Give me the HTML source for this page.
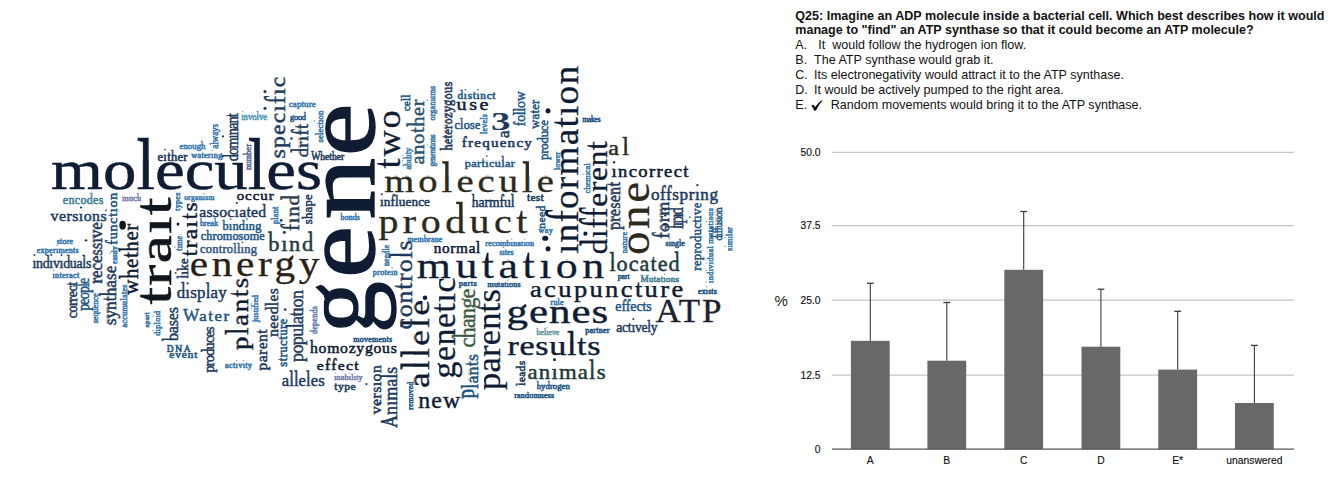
<!DOCTYPE html>
<html><head><meta charset="utf-8"><style>
html,body{margin:0;padding:0;background:#fff;}
#root{position:relative;width:1344px;height:480px;overflow:hidden;background:#fff;}
</style></head><body><div id="root">
<svg style="position:absolute;left:0;top:0" width="1344" height="480" font-family="Liberation Serif">
<defs>
<clipPath id="a1"><rect x="-50" y="-27.51" width="3000" height="300"/></clipPath><clipPath id="b1"><rect x="-50" y="-400" width="3000" height="373.09"/></clipPath>
<clipPath id="a2"><rect x="-50" y="-6.29" width="3000" height="300"/></clipPath><clipPath id="b2"><rect x="-50" y="-400" width="3000" height="394.31"/></clipPath>
<clipPath id="a3"><rect x="-50" y="-6.03" width="3000" height="300"/></clipPath><clipPath id="b3"><rect x="-50" y="-400" width="3000" height="394.57"/></clipPath>
<clipPath id="a4"><rect x="-50" y="-4.48" width="3000" height="300"/></clipPath><clipPath id="b4"><rect x="-50" y="-400" width="3000" height="396.12"/></clipPath>
<clipPath id="a5"><rect x="-50" y="-7.74" width="3000" height="300"/></clipPath><clipPath id="b5"><rect x="-50" y="-400" width="3000" height="392.86"/></clipPath>
<clipPath id="a6"><rect x="-50" y="-4.22" width="3000" height="300"/></clipPath><clipPath id="b6"><rect x="-50" y="-400" width="3000" height="396.38"/></clipPath>
<clipPath id="a7"><rect x="-50" y="-4.22" width="3000" height="300"/></clipPath><clipPath id="b7"><rect x="-50" y="-400" width="3000" height="396.38"/></clipPath>
<clipPath id="a8"><rect x="-50" y="-7.53" width="3000" height="300"/></clipPath><clipPath id="b8"><rect x="-50" y="-400" width="3000" height="393.07"/></clipPath>
<clipPath id="a9"><rect x="-50" y="-4.22" width="3000" height="300"/></clipPath><clipPath id="b9"><rect x="-50" y="-400" width="3000" height="396.38"/></clipPath>
<clipPath id="a10"><rect x="-50" y="-4.74" width="3000" height="300"/></clipPath><clipPath id="b10"><rect x="-50" y="-400" width="3000" height="395.86"/></clipPath>
<clipPath id="a11"><rect x="-50" y="-4.22" width="3000" height="300"/></clipPath><clipPath id="b11"><rect x="-50" y="-400" width="3000" height="396.38"/></clipPath>
<clipPath id="a12"><rect x="-50" y="-4.74" width="3000" height="300"/></clipPath><clipPath id="b12"><rect x="-50" y="-400" width="3000" height="395.86"/></clipPath>
<clipPath id="a13"><rect x="-50" y="-4.95" width="3000" height="300"/></clipPath><clipPath id="b13"><rect x="-50" y="-400" width="3000" height="395.65"/></clipPath>
<clipPath id="a14"><rect x="-50" y="-4.74" width="3000" height="300"/></clipPath><clipPath id="b14"><rect x="-50" y="-400" width="3000" height="395.86"/></clipPath>
<clipPath id="a15"><rect x="-50" y="-5.26" width="3000" height="300"/></clipPath><clipPath id="b15"><rect x="-50" y="-400" width="3000" height="395.34"/></clipPath>
<clipPath id="a16"><rect x="-50" y="-6.91" width="3000" height="300"/></clipPath><clipPath id="b16"><rect x="-50" y="-400" width="3000" height="393.69"/></clipPath>
<clipPath id="a17"><rect x="-50" y="-4.02" width="3000" height="300"/></clipPath><clipPath id="b17"><rect x="-50" y="-400" width="3000" height="396.58"/></clipPath>
<clipPath id="a18"><rect x="-50" y="-7.84" width="3000" height="300"/></clipPath><clipPath id="b18"><rect x="-50" y="-400" width="3000" height="392.76"/></clipPath>
<clipPath id="a19"><rect x="-50" y="-4.74" width="3000" height="300"/></clipPath><clipPath id="b19"><rect x="-50" y="-400" width="3000" height="395.86"/></clipPath>
<clipPath id="a20"><rect x="-50" y="-6.29" width="3000" height="300"/></clipPath><clipPath id="b20"><rect x="-50" y="-400" width="3000" height="394.31"/></clipPath>
<clipPath id="a21"><rect x="-50" y="-6.29" width="3000" height="300"/></clipPath><clipPath id="b21"><rect x="-50" y="-400" width="3000" height="394.31"/></clipPath>
<clipPath id="a22"><rect x="-50" y="-6.29" width="3000" height="300"/></clipPath><clipPath id="b22"><rect x="-50" y="-400" width="3000" height="394.31"/></clipPath>
<clipPath id="a23"><rect x="-50" y="-10.12" width="3000" height="300"/></clipPath><clipPath id="b23"><rect x="-50" y="-400" width="3000" height="390.48"/></clipPath>
<clipPath id="a24"><rect x="-50" y="-17.47" width="3000" height="300"/></clipPath><clipPath id="b24"><rect x="-50" y="-400" width="3000" height="383.13"/></clipPath>
<clipPath id="a25"><rect x="-50" y="-8.36" width="3000" height="300"/></clipPath><clipPath id="b25"><rect x="-50" y="-400" width="3000" height="392.24"/></clipPath>
<clipPath id="a26"><rect x="-50" y="-7.53" width="3000" height="300"/></clipPath><clipPath id="b26"><rect x="-50" y="-400" width="3000" height="393.07"/></clipPath>
<clipPath id="a27"><rect x="-50" y="-4.43" width="3000" height="300"/></clipPath><clipPath id="b27"><rect x="-50" y="-400" width="3000" height="396.17"/></clipPath>
<clipPath id="a28"><rect x="-50" y="-5.26" width="3000" height="300"/></clipPath><clipPath id="b28"><rect x="-50" y="-400" width="3000" height="395.34"/></clipPath>
<clipPath id="a29"><rect x="-50" y="-4.22" width="3000" height="300"/></clipPath><clipPath id="b29"><rect x="-50" y="-400" width="3000" height="396.38"/></clipPath>
<clipPath id="a30"><rect x="-50" y="-8.36" width="3000" height="300"/></clipPath><clipPath id="b30"><rect x="-50" y="-400" width="3000" height="392.24"/></clipPath>
<clipPath id="a31"><rect x="-50" y="-4.22" width="3000" height="300"/></clipPath><clipPath id="b31"><rect x="-50" y="-400" width="3000" height="396.38"/></clipPath>
<clipPath id="a32"><rect x="-50" y="-7.53" width="3000" height="300"/></clipPath><clipPath id="b32"><rect x="-50" y="-400" width="3000" height="393.07"/></clipPath>
<clipPath id="a33"><rect x="-50" y="-6.81" width="3000" height="300"/></clipPath><clipPath id="b33"><rect x="-50" y="-400" width="3000" height="393.79"/></clipPath>
<clipPath id="a34"><rect x="-50" y="-4.22" width="3000" height="300"/></clipPath><clipPath id="b34"><rect x="-50" y="-400" width="3000" height="396.38"/></clipPath>
<clipPath id="a35"><rect x="-50" y="-5.77" width="3000" height="300"/></clipPath><clipPath id="b35"><rect x="-50" y="-400" width="3000" height="394.83"/></clipPath>
<clipPath id="a36"><rect x="-50" y="-4.22" width="3000" height="300"/></clipPath><clipPath id="b36"><rect x="-50" y="-400" width="3000" height="396.38"/></clipPath>
<clipPath id="a37"><rect x="-50" y="-11.36" width="3000" height="300"/></clipPath><clipPath id="b37"><rect x="-50" y="-400" width="3000" height="389.24"/></clipPath>
<clipPath id="a38"><rect x="-50" y="-16.12" width="3000" height="300"/></clipPath><clipPath id="b38"><rect x="-50" y="-400" width="3000" height="384.48"/></clipPath>
<clipPath id="a39"><rect x="-50" y="-4.22" width="3000" height="300"/></clipPath><clipPath id="b39"><rect x="-50" y="-400" width="3000" height="396.38"/></clipPath>
<clipPath id="a40"><rect x="-50" y="-7.33" width="3000" height="300"/></clipPath><clipPath id="b40"><rect x="-50" y="-400" width="3000" height="393.27"/></clipPath>
<clipPath id="a41"><rect x="-50" y="-4.22" width="3000" height="300"/></clipPath><clipPath id="b41"><rect x="-50" y="-400" width="3000" height="396.38"/></clipPath>
<clipPath id="a42"><rect x="-50" y="-4.22" width="3000" height="300"/></clipPath><clipPath id="b42"><rect x="-50" y="-400" width="3000" height="396.38"/></clipPath>
<clipPath id="a43"><rect x="-50" y="-17.99" width="3000" height="300"/></clipPath><clipPath id="b43"><rect x="-50" y="-400" width="3000" height="382.61"/></clipPath>
<clipPath id="a44"><rect x="-50" y="-4.22" width="3000" height="300"/></clipPath><clipPath id="b44"><rect x="-50" y="-400" width="3000" height="396.38"/></clipPath>
<clipPath id="a45"><rect x="-50" y="-4.22" width="3000" height="300"/></clipPath><clipPath id="b45"><rect x="-50" y="-400" width="3000" height="396.38"/></clipPath>
<clipPath id="a46"><rect x="-50" y="-15.92" width="3000" height="300"/></clipPath><clipPath id="b46"><rect x="-50" y="-400" width="3000" height="384.68"/></clipPath>
<clipPath id="a47"><rect x="-50" y="-6.81" width="3000" height="300"/></clipPath><clipPath id="b47"><rect x="-50" y="-400" width="3000" height="393.79"/></clipPath>
<clipPath id="a48"><rect x="-50" y="-7.12" width="3000" height="300"/></clipPath><clipPath id="b48"><rect x="-50" y="-400" width="3000" height="393.48"/></clipPath>
<clipPath id="a49"><rect x="-50" y="-5.77" width="3000" height="300"/></clipPath><clipPath id="b49"><rect x="-50" y="-400" width="3000" height="394.83"/></clipPath>
<clipPath id="a50"><rect x="-50" y="-5.98" width="3000" height="300"/></clipPath><clipPath id="b50"><rect x="-50" y="-400" width="3000" height="394.62"/></clipPath>
<clipPath id="a51"><rect x="-50" y="-6.81" width="3000" height="300"/></clipPath><clipPath id="b51"><rect x="-50" y="-400" width="3000" height="393.79"/></clipPath>
<clipPath id="a52"><rect x="-50" y="-5.26" width="3000" height="300"/></clipPath><clipPath id="b52"><rect x="-50" y="-400" width="3000" height="395.34"/></clipPath>
<clipPath id="a53"><rect x="-50" y="-8.67" width="3000" height="300"/></clipPath><clipPath id="b53"><rect x="-50" y="-400" width="3000" height="391.93"/></clipPath>
<clipPath id="a54"><rect x="-50" y="-6.08" width="3000" height="300"/></clipPath><clipPath id="b54"><rect x="-50" y="-400" width="3000" height="394.52"/></clipPath>
<clipPath id="a55"><rect x="-50" y="-4.22" width="3000" height="300"/></clipPath><clipPath id="b55"><rect x="-50" y="-400" width="3000" height="396.38"/></clipPath>
<clipPath id="a56"><rect x="-50" y="-10.33" width="3000" height="300"/></clipPath><clipPath id="b56"><rect x="-50" y="-400" width="3000" height="390.27"/></clipPath>
<clipPath id="a57"><rect x="-50" y="-8.15" width="3000" height="300"/></clipPath><clipPath id="b57"><rect x="-50" y="-400" width="3000" height="392.45"/></clipPath>
<clipPath id="a58"><rect x="-50" y="-8.15" width="3000" height="300"/></clipPath><clipPath id="b58"><rect x="-50" y="-400" width="3000" height="392.45"/></clipPath>
<clipPath id="a59"><rect x="-50" y="-4.22" width="3000" height="300"/></clipPath><clipPath id="b59"><rect x="-50" y="-400" width="3000" height="396.38"/></clipPath>
<clipPath id="a60"><rect x="-50" y="-10.22" width="3000" height="300"/></clipPath><clipPath id="b60"><rect x="-50" y="-400" width="3000" height="390.38"/></clipPath>
<clipPath id="a61"><rect x="-50" y="-4.22" width="3000" height="300"/></clipPath><clipPath id="b61"><rect x="-50" y="-400" width="3000" height="396.38"/></clipPath>
<clipPath id="a62"><rect x="-50" y="-4.74" width="3000" height="300"/></clipPath><clipPath id="b62"><rect x="-50" y="-400" width="3000" height="395.86"/></clipPath>
<clipPath id="a63"><rect x="-50" y="-4.22" width="3000" height="300"/></clipPath><clipPath id="b63"><rect x="-50" y="-400" width="3000" height="396.38"/></clipPath>
<clipPath id="a64"><rect x="-50" y="-11.26" width="3000" height="300"/></clipPath><clipPath id="b64"><rect x="-50" y="-400" width="3000" height="389.34"/></clipPath>
<clipPath id="a65"><rect x="-50" y="-16.95" width="3000" height="300"/></clipPath><clipPath id="b65"><rect x="-50" y="-400" width="3000" height="383.65"/></clipPath>
<clipPath id="a66"><rect x="-50" y="-4.22" width="3000" height="300"/></clipPath><clipPath id="b66"><rect x="-50" y="-400" width="3000" height="396.38"/></clipPath>
<clipPath id="a67"><rect x="-50" y="-7.33" width="3000" height="300"/></clipPath><clipPath id="b67"><rect x="-50" y="-400" width="3000" height="393.27"/></clipPath>
<clipPath id="a68"><rect x="-50" y="-16.27" width="3000" height="300"/></clipPath><clipPath id="b68"><rect x="-50" y="-400" width="3000" height="384.32"/></clipPath>
<clipPath id="a69"><rect x="-50" y="-4.22" width="3000" height="300"/></clipPath><clipPath id="b69"><rect x="-50" y="-400" width="3000" height="396.38"/></clipPath>
<clipPath id="a70"><rect x="-50" y="-4.22" width="3000" height="300"/></clipPath><clipPath id="b70"><rect x="-50" y="-400" width="3000" height="396.38"/></clipPath>
<clipPath id="a71"><rect x="-50" y="-7.33" width="3000" height="300"/></clipPath><clipPath id="b71"><rect x="-50" y="-400" width="3000" height="393.27"/></clipPath>
<clipPath id="a72"><rect x="-50" y="-13.23" width="3000" height="300"/></clipPath><clipPath id="b72"><rect x="-50" y="-400" width="3000" height="387.37"/></clipPath>
<clipPath id="a73"><rect x="-50" y="-10.43" width="3000" height="300"/></clipPath><clipPath id="b73"><rect x="-50" y="-400" width="3000" height="390.17"/></clipPath>
<clipPath id="a74"><rect x="-50" y="-4.74" width="3000" height="300"/></clipPath><clipPath id="b74"><rect x="-50" y="-400" width="3000" height="395.86"/></clipPath>
<clipPath id="a75"><rect x="-50" y="-4.22" width="3000" height="300"/></clipPath><clipPath id="b75"><rect x="-50" y="-400" width="3000" height="396.38"/></clipPath>
<clipPath id="a76"><rect x="-50" y="-4.22" width="3000" height="300"/></clipPath><clipPath id="b76"><rect x="-50" y="-400" width="3000" height="396.38"/></clipPath>
<clipPath id="a77"><rect x="-50" y="-4.22" width="3000" height="300"/></clipPath><clipPath id="b77"><rect x="-50" y="-400" width="3000" height="396.38"/></clipPath>
<clipPath id="a78"><rect x="-50" y="-50.27" width="3000" height="300"/></clipPath><clipPath id="b78"><rect x="-50" y="-400" width="3000" height="350.33"/></clipPath>
<clipPath id="a79"><rect x="-50" y="-50.27" width="3000" height="300"/></clipPath><clipPath id="b79"><rect x="-50" y="-400" width="3000" height="350.33"/></clipPath>
<clipPath id="a80"><rect x="-50" y="-49.24" width="3000" height="300"/></clipPath><clipPath id="b80"><rect x="-50" y="-400" width="3000" height="351.36"/></clipPath>
<clipPath id="a81"><rect x="-50" y="-49.24" width="3000" height="300"/></clipPath><clipPath id="b81"><rect x="-50" y="-400" width="3000" height="351.36"/></clipPath>
<clipPath id="a82"><rect x="-50" y="-22.85" width="3000" height="300"/></clipPath><clipPath id="b82"><rect x="-50" y="-400" width="3000" height="377.75"/></clipPath>
<clipPath id="a83"><rect x="-50" y="-10.95" width="3000" height="300"/></clipPath><clipPath id="b83"><rect x="-50" y="-400" width="3000" height="389.65"/></clipPath>
<clipPath id="a84"><rect x="-50" y="-4.74" width="3000" height="300"/></clipPath><clipPath id="b84"><rect x="-50" y="-400" width="3000" height="395.86"/></clipPath>
<clipPath id="a85"><rect x="-50" y="-8.36" width="3000" height="300"/></clipPath><clipPath id="b85"><rect x="-50" y="-400" width="3000" height="392.24"/></clipPath>
<clipPath id="a86"><rect x="-50" y="-5.26" width="3000" height="300"/></clipPath><clipPath id="b86"><rect x="-50" y="-400" width="3000" height="395.34"/></clipPath>
<clipPath id="a87"><rect x="-50" y="-4.74" width="3000" height="300"/></clipPath><clipPath id="b87"><rect x="-50" y="-400" width="3000" height="395.86"/></clipPath>
<clipPath id="a88"><rect x="-50" y="-8.88" width="3000" height="300"/></clipPath><clipPath id="b88"><rect x="-50" y="-400" width="3000" height="391.72"/></clipPath>
<clipPath id="a89"><rect x="-50" y="-6.50" width="3000" height="300"/></clipPath><clipPath id="b89"><rect x="-50" y="-400" width="3000" height="394.10"/></clipPath>
<clipPath id="a90"><rect x="-50" y="-4.22" width="3000" height="300"/></clipPath><clipPath id="b90"><rect x="-50" y="-400" width="3000" height="396.38"/></clipPath>
<clipPath id="a91"><rect x="-50" y="-8.88" width="3000" height="300"/></clipPath><clipPath id="b91"><rect x="-50" y="-400" width="3000" height="391.72"/></clipPath>
<clipPath id="a92"><rect x="-50" y="-10.12" width="3000" height="300"/></clipPath><clipPath id="b92"><rect x="-50" y="-400" width="3000" height="390.48"/></clipPath>
<clipPath id="a93"><rect x="-50" y="-4.22" width="3000" height="300"/></clipPath><clipPath id="b93"><rect x="-50" y="-400" width="3000" height="396.38"/></clipPath>
<clipPath id="a94"><rect x="-50" y="-6.81" width="3000" height="300"/></clipPath><clipPath id="b94"><rect x="-50" y="-400" width="3000" height="393.79"/></clipPath>
<clipPath id="a95"><rect x="-50" y="-7.64" width="3000" height="300"/></clipPath><clipPath id="b95"><rect x="-50" y="-400" width="3000" height="392.96"/></clipPath>
<clipPath id="a96"><rect x="-50" y="-8.36" width="3000" height="300"/></clipPath><clipPath id="b96"><rect x="-50" y="-400" width="3000" height="392.24"/></clipPath>
<clipPath id="a97"><rect x="-50" y="-4.74" width="3000" height="300"/></clipPath><clipPath id="b97"><rect x="-50" y="-400" width="3000" height="395.86"/></clipPath>
<clipPath id="a98"><rect x="-50" y="-8.88" width="3000" height="300"/></clipPath><clipPath id="b98"><rect x="-50" y="-400" width="3000" height="391.72"/></clipPath>
<clipPath id="a99"><rect x="-50" y="-4.22" width="3000" height="300"/></clipPath><clipPath id="b99"><rect x="-50" y="-400" width="3000" height="396.38"/></clipPath>
<clipPath id="a100"><rect x="-50" y="-3.70" width="3000" height="300"/></clipPath><clipPath id="b100"><rect x="-50" y="-400" width="3000" height="396.90"/></clipPath>
<clipPath id="a101"><rect x="-50" y="-4.22" width="3000" height="300"/></clipPath><clipPath id="b101"><rect x="-50" y="-400" width="3000" height="396.38"/></clipPath>
<clipPath id="a102"><rect x="-50" y="-8.36" width="3000" height="300"/></clipPath><clipPath id="b102"><rect x="-50" y="-400" width="3000" height="392.24"/></clipPath>
<clipPath id="a103"><rect x="-50" y="-10.43" width="3000" height="300"/></clipPath><clipPath id="b103"><rect x="-50" y="-400" width="3000" height="390.17"/></clipPath>
<clipPath id="a104"><rect x="-50" y="-4.22" width="3000" height="300"/></clipPath><clipPath id="b104"><rect x="-50" y="-400" width="3000" height="396.38"/></clipPath>
<clipPath id="a105"><rect x="-50" y="-4.22" width="3000" height="300"/></clipPath><clipPath id="b105"><rect x="-50" y="-400" width="3000" height="396.38"/></clipPath>
<clipPath id="a106"><rect x="-50" y="-9.91" width="3000" height="300"/></clipPath><clipPath id="b106"><rect x="-50" y="-400" width="3000" height="390.69"/></clipPath>
<clipPath id="a107"><rect x="-50" y="-6.29" width="3000" height="300"/></clipPath><clipPath id="b107"><rect x="-50" y="-400" width="3000" height="394.31"/></clipPath>
<clipPath id="a108"><rect x="-50" y="-11.98" width="3000" height="300"/></clipPath><clipPath id="b108"><rect x="-50" y="-400" width="3000" height="388.62"/></clipPath>
<clipPath id="a109"><rect x="-50" y="-4.22" width="3000" height="300"/></clipPath><clipPath id="b109"><rect x="-50" y="-400" width="3000" height="396.38"/></clipPath>
<clipPath id="a110"><rect x="-50" y="-7.64" width="3000" height="300"/></clipPath><clipPath id="b110"><rect x="-50" y="-400" width="3000" height="392.96"/></clipPath>
<clipPath id="a111"><rect x="-50" y="-7.64" width="3000" height="300"/></clipPath><clipPath id="b111"><rect x="-50" y="-400" width="3000" height="392.96"/></clipPath>
<clipPath id="a112"><rect x="-50" y="-6.29" width="3000" height="300"/></clipPath><clipPath id="b112"><rect x="-50" y="-400" width="3000" height="394.31"/></clipPath>
<clipPath id="a113"><rect x="-50" y="-9.60" width="3000" height="300"/></clipPath><clipPath id="b113"><rect x="-50" y="-400" width="3000" height="391.00"/></clipPath>
<clipPath id="a114"><rect x="-50" y="-4.22" width="3000" height="300"/></clipPath><clipPath id="b114"><rect x="-50" y="-400" width="3000" height="396.38"/></clipPath>
<clipPath id="a115"><rect x="-50" y="-7.84" width="3000" height="300"/></clipPath><clipPath id="b115"><rect x="-50" y="-400" width="3000" height="392.76"/></clipPath>
<clipPath id="a116"><rect x="-50" y="-7.84" width="3000" height="300"/></clipPath><clipPath id="b116"><rect x="-50" y="-400" width="3000" height="392.76"/></clipPath>
<clipPath id="a117"><rect x="-50" y="-9.19" width="3000" height="300"/></clipPath><clipPath id="b117"><rect x="-50" y="-400" width="3000" height="391.41"/></clipPath>
<clipPath id="a118"><rect x="-50" y="-15.09" width="3000" height="300"/></clipPath><clipPath id="b118"><rect x="-50" y="-400" width="3000" height="385.51"/></clipPath>
<clipPath id="a119"><rect x="-50" y="-4.22" width="3000" height="300"/></clipPath><clipPath id="b119"><rect x="-50" y="-400" width="3000" height="396.38"/></clipPath>
<clipPath id="a120"><rect x="-50" y="-16.12" width="3000" height="300"/></clipPath><clipPath id="b120"><rect x="-50" y="-400" width="3000" height="384.48"/></clipPath>
<clipPath id="a121"><rect x="-50" y="-8.88" width="3000" height="300"/></clipPath><clipPath id="b121"><rect x="-50" y="-400" width="3000" height="391.72"/></clipPath>
<clipPath id="a122"><rect x="-50" y="-11.98" width="3000" height="300"/></clipPath><clipPath id="b122"><rect x="-50" y="-400" width="3000" height="388.62"/></clipPath>
<clipPath id="a123"><rect x="-50" y="-16.74" width="3000" height="300"/></clipPath><clipPath id="b123"><rect x="-50" y="-400" width="3000" height="383.86"/></clipPath>
<clipPath id="a124"><rect x="-50" y="-5.77" width="3000" height="300"/></clipPath><clipPath id="b124"><rect x="-50" y="-400" width="3000" height="394.83"/></clipPath>
<clipPath id="a125"><rect x="-50" y="-11.98" width="3000" height="300"/></clipPath><clipPath id="b125"><rect x="-50" y="-400" width="3000" height="388.62"/></clipPath>
<clipPath id="a126"><rect x="-50" y="-4.22" width="3000" height="300"/></clipPath><clipPath id="b126"><rect x="-50" y="-400" width="3000" height="396.38"/></clipPath>
<clipPath id="a127"><rect x="-50" y="-16.74" width="3000" height="300"/></clipPath><clipPath id="b127"><rect x="-50" y="-400" width="3000" height="383.86"/></clipPath>
<clipPath id="a128"><rect x="-50" y="-5.77" width="3000" height="300"/></clipPath><clipPath id="b128"><rect x="-50" y="-400" width="3000" height="394.83"/></clipPath>
<clipPath id="a129"><rect x="-50" y="-4.74" width="3000" height="300"/></clipPath><clipPath id="b129"><rect x="-50" y="-400" width="3000" height="395.86"/></clipPath>
<clipPath id="a130"><rect x="-50" y="-9.71" width="3000" height="300"/></clipPath><clipPath id="b130"><rect x="-50" y="-400" width="3000" height="390.89"/></clipPath>
<clipPath id="a131"><rect x="-50" y="-4.22" width="3000" height="300"/></clipPath><clipPath id="b131"><rect x="-50" y="-400" width="3000" height="396.38"/></clipPath>
<clipPath id="a132"><rect x="-50" y="-4.22" width="3000" height="300"/></clipPath><clipPath id="b132"><rect x="-50" y="-400" width="3000" height="396.38"/></clipPath>
<clipPath id="a133"><rect x="-50" y="-6.40" width="3000" height="300"/></clipPath><clipPath id="b133"><rect x="-50" y="-400" width="3000" height="394.20"/></clipPath>
<clipPath id="a134"><rect x="-50" y="-4.22" width="3000" height="300"/></clipPath><clipPath id="b134"><rect x="-50" y="-400" width="3000" height="396.38"/></clipPath>
<clipPath id="a135"><rect x="-50" y="-8.05" width="3000" height="300"/></clipPath><clipPath id="b135"><rect x="-50" y="-400" width="3000" height="392.55"/></clipPath>
<clipPath id="a136"><rect x="-50" y="-7.33" width="3000" height="300"/></clipPath><clipPath id="b136"><rect x="-50" y="-400" width="3000" height="393.27"/></clipPath>
<clipPath id="a137"><rect x="-50" y="-6.29" width="3000" height="300"/></clipPath><clipPath id="b137"><rect x="-50" y="-400" width="3000" height="394.31"/></clipPath>
<clipPath id="a138"><rect x="-50" y="-6.81" width="3000" height="300"/></clipPath><clipPath id="b138"><rect x="-50" y="-400" width="3000" height="393.79"/></clipPath>
<clipPath id="a139"><rect x="-50" y="-4.22" width="3000" height="300"/></clipPath><clipPath id="b139"><rect x="-50" y="-400" width="3000" height="396.38"/></clipPath>
<clipPath id="a140"><rect x="-50" y="-17.16" width="3000" height="300"/></clipPath><clipPath id="b140"><rect x="-50" y="-400" width="3000" height="383.44"/></clipPath>
<clipPath id="a141"><rect x="-50" y="-14.57" width="3000" height="300"/></clipPath><clipPath id="b141"><rect x="-50" y="-400" width="3000" height="386.03"/></clipPath>
<clipPath id="a142"><rect x="-50" y="-4.22" width="3000" height="300"/></clipPath><clipPath id="b142"><rect x="-50" y="-400" width="3000" height="396.38"/></clipPath>
<clipPath id="a143"><rect x="-50" y="-8.36" width="3000" height="300"/></clipPath><clipPath id="b143"><rect x="-50" y="-400" width="3000" height="392.24"/></clipPath>
<clipPath id="a144"><rect x="-50" y="-21.30" width="3000" height="300"/></clipPath><clipPath id="b144"><rect x="-50" y="-400" width="3000" height="379.30"/></clipPath>
<clipPath id="a145"><rect x="-50" y="-4.22" width="3000" height="300"/></clipPath><clipPath id="b145"><rect x="-50" y="-400" width="3000" height="396.38"/></clipPath>
<clipPath id="a146"><rect x="-50" y="-8.88" width="3000" height="300"/></clipPath><clipPath id="b146"><rect x="-50" y="-400" width="3000" height="391.72"/></clipPath>
<clipPath id="a147"><rect x="-50" y="-9.91" width="3000" height="300"/></clipPath><clipPath id="b147"><rect x="-50" y="-400" width="3000" height="390.69"/></clipPath>
<clipPath id="a148"><rect x="-50" y="-6.40" width="3000" height="300"/></clipPath><clipPath id="b148"><rect x="-50" y="-400" width="3000" height="394.20"/></clipPath>
<clipPath id="a149"><rect x="-50" y="-4.12" width="3000" height="300"/></clipPath><clipPath id="b149"><rect x="-50" y="-400" width="3000" height="396.48"/></clipPath>
<clipPath id="a150"><rect x="-50" y="-5.98" width="3000" height="300"/></clipPath><clipPath id="b150"><rect x="-50" y="-400" width="3000" height="394.62"/></clipPath>
<clipPath id="a151"><rect x="-50" y="-4.22" width="3000" height="300"/></clipPath><clipPath id="b151"><rect x="-50" y="-400" width="3000" height="396.38"/></clipPath>
<clipPath id="a152"><rect x="-50" y="-5.77" width="3000" height="300"/></clipPath><clipPath id="b152"><rect x="-50" y="-400" width="3000" height="394.83"/></clipPath>
</defs>
<g transform="translate(51.0 189.2) scale(1.1802 1)"><text id="t1" clip-path="url(#a1)" font-size="56.64" fill="#0f1c33" stroke="#0f1c33" stroke-width="0.45" textLength="229.65" lengthAdjust="spacing">molecules</text><g clip-path="url(#b1)"><text transform="translate(0 -26.91) scale(1 2.0) translate(0 26.91)" vector-effect="non-scaling-stroke" font-size="56.64" fill="#0f1c33" stroke="#0f1c33" stroke-width="0.45" textLength="229.65" lengthAdjust="spacing">molecules</text></g></g>
<g transform="translate(157.5 160.5) scale(1.0498 1)"><text id="t2" clip-path="url(#a2)" font-size="11.98" fill="#1c3a5e" stroke="#1c3a5e" stroke-width="0.53" textLength="28.63" lengthAdjust="spacing">eıther</text><g clip-path="url(#b2)"><text transform="translate(0 -5.69) scale(1 2.0) translate(0 5.69)" vector-effect="non-scaling-stroke" font-size="11.98" fill="#1c3a5e" stroke="#1c3a5e" stroke-width="0.53" textLength="28.63" lengthAdjust="spacing">eıther</text></g><circle cx="7.25" cy="-11.00" r="0.84" fill="#1c3a5e"/></g>
<g transform="translate(62.75 203.75) scale(1.0500 1)"><text id="t3" clip-path="url(#a3)" font-size="11.44" fill="#3f7f95" stroke="#3f7f95" stroke-width="0.53" textLength="38.68" lengthAdjust="spacing">encodes</text><g clip-path="url(#b3)"><text transform="translate(0 -5.43) scale(1 2.0) translate(0 5.43)" vector-effect="non-scaling-stroke" font-size="11.44" fill="#3f7f95" stroke="#3f7f95" stroke-width="0.53" textLength="38.68" lengthAdjust="spacing">encodes</text></g></g>
<g transform="translate(122.25 201.25) scale(1.0231 1)"><text id="t4" clip-path="url(#a4)" font-size="8.17" fill="#7a80b0" stroke="#7a80b0" stroke-width="0.55" textLength="18.57" lengthAdjust="spacing">much</text><g clip-path="url(#b4)"><text transform="translate(0 -3.88) scale(1 2.0) translate(0 3.88)" vector-effect="non-scaling-stroke" font-size="8.17" fill="#7a80b0" stroke="#7a80b0" stroke-width="0.55" textLength="18.57" lengthAdjust="spacing">much</text></g></g>
<g transform="translate(50.6 221.25) scale(1.0572 1)"><text id="t5" clip-path="url(#a5)" font-size="15.03" fill="#1c3a5e" stroke="#1c3a5e" stroke-width="0.49" textLength="52.97" lengthAdjust="spacing">versıons</text><g clip-path="url(#b5)"><text transform="translate(0 -7.14) scale(1 2.0) translate(0 7.14)" vector-effect="non-scaling-stroke" font-size="15.03" fill="#1c3a5e" stroke="#1c3a5e" stroke-width="0.49" textLength="52.97" lengthAdjust="spacing">versıons</text></g><circle cx="28.77" cy="-13.80" r="1.05" fill="#1c3a5e"/></g>
<g transform="translate(56.7 243.8) scale(1.0525 1)"><text id="t6" clip-path="url(#a6)" font-size="7.63" fill="#3a7ab0" stroke="#3a7ab0" stroke-width="0.55" textLength="15.60" lengthAdjust="spacing">store</text><g clip-path="url(#b6)"><text transform="translate(0 -3.62) scale(1 2.0) translate(0 3.62)" vector-effect="non-scaling-stroke" font-size="7.63" fill="#3a7ab0" stroke="#3a7ab0" stroke-width="0.55" textLength="15.60" lengthAdjust="spacing">store</text></g></g>
<g transform="translate(36.7 252.5) scale(1.0617 1)"><text id="t7" clip-path="url(#a7)" font-size="7.63" fill="#3a7ab0" stroke="#3a7ab0" stroke-width="0.55" textLength="39.57" lengthAdjust="spacing">experıments</text><g clip-path="url(#b7)"><text transform="translate(0 -3.62) scale(1 2.0) translate(0 3.62)" vector-effect="non-scaling-stroke" font-size="7.63" fill="#3a7ab0" stroke="#3a7ab0" stroke-width="0.55" textLength="39.57" lengthAdjust="spacing">experıments</text></g><circle cx="19.15" cy="-7.00" r="0.60" fill="#3a7ab0"/></g>
<g transform="translate(32.5 268.3) scale(0.9521 1)"><text id="t8" clip-path="url(#a8)" font-size="14.60" fill="#1c3a5e" stroke="#1c3a5e" stroke-width="0.50" textLength="61.77" lengthAdjust="spacing">ındıvıduals</text><g clip-path="url(#b8)"><text transform="translate(0 -6.93) scale(1 2.0) translate(0 6.93)" vector-effect="non-scaling-stroke" font-size="14.60" fill="#1c3a5e" stroke="#1c3a5e" stroke-width="0.50" textLength="61.77" lengthAdjust="spacing">ındıvıduals</text></g><circle cx="2.03" cy="-13.40" r="1.02" fill="#1c3a5e"/><circle cx="19.75" cy="-13.40" r="1.02" fill="#1c3a5e"/><circle cx="30.48" cy="-13.40" r="1.02" fill="#1c3a5e"/></g>
<g transform="translate(52.5 277.5) scale(1.0829 1)"><text id="t9" clip-path="url(#a9)" font-size="7.63" fill="#3a7ab0" stroke="#3a7ab0" stroke-width="0.55" textLength="24.76" lengthAdjust="spacing">ınteract</text><g clip-path="url(#b9)"><text transform="translate(0 -3.62) scale(1 2.0) translate(0 3.62)" vector-effect="non-scaling-stroke" font-size="7.63" fill="#3a7ab0" stroke="#3a7ab0" stroke-width="0.55" textLength="24.76" lengthAdjust="spacing">ınteract</text></g><circle cx="1.06" cy="-7.00" r="0.60" fill="#3a7ab0"/></g>
<g transform="translate(179.5 148.75) scale(1.0067 1)"><text id="t10" clip-path="url(#a10)" font-size="8.71" fill="#3a7ab0" stroke="#3a7ab0" stroke-width="0.55" textLength="25.83" lengthAdjust="spacing">enough</text><g clip-path="url(#b10)"><text transform="translate(0 -4.14) scale(1 2.0) translate(0 4.14)" vector-effect="non-scaling-stroke" font-size="8.71" fill="#3a7ab0" stroke="#3a7ab0" stroke-width="0.55" textLength="25.83" lengthAdjust="spacing">enough</text></g></g>
<g transform="translate(191.25 157.5) scale(1.0782 1)"><text id="t11" clip-path="url(#a11)" font-size="7.63" fill="#3a7ab0" stroke="#3a7ab0" stroke-width="0.55" textLength="28.76" lengthAdjust="spacing">waterıng</text><g clip-path="url(#b11)"><text transform="translate(0 -3.62) scale(1 2.0) translate(0 3.62)" vector-effect="non-scaling-stroke" font-size="7.63" fill="#3a7ab0" stroke="#3a7ab0" stroke-width="0.55" textLength="28.76" lengthAdjust="spacing">waterıng</text></g><circle cx="19.48" cy="-7.00" r="0.60" fill="#3a7ab0"/></g>
<g transform="translate(288.75 106.75) scale(1.0263 1)"><text id="t12" clip-path="url(#a12)" font-size="8.71" fill="#3a7ab0" stroke="#3a7ab0" stroke-width="0.55" textLength="26.32" lengthAdjust="spacing">capture</text><g clip-path="url(#b12)"><text transform="translate(0 -4.14) scale(1 2.0) translate(0 4.14)" vector-effect="non-scaling-stroke" font-size="8.71" fill="#3a7ab0" stroke="#3a7ab0" stroke-width="0.55" textLength="26.32" lengthAdjust="spacing">capture</text></g></g>
<g transform="translate(241.25 120) scale(0.9735 1)"><text id="t13" clip-path="url(#a13)" font-size="9.15" fill="#5aa0b8" stroke="#5aa0b8" stroke-width="0.55" textLength="26.72" lengthAdjust="spacing">ınvolve</text><g clip-path="url(#b13)"><text transform="translate(0 -4.35) scale(1 2.0) translate(0 4.35)" vector-effect="non-scaling-stroke" font-size="9.15" fill="#5aa0b8" stroke="#5aa0b8" stroke-width="0.55" textLength="26.72" lengthAdjust="spacing">ınvolve</text></g><circle cx="1.27" cy="-8.40" r="0.64" fill="#5aa0b8"/></g>
<g transform="translate(290.0 119.5) scale(0.9587 1)"><text id="t14" clip-path="url(#a14)" font-size="8.71" fill="#235787" stroke="#235787" stroke-width="0.55" textLength="16.71" lengthAdjust="spacing">good</text><g clip-path="url(#b14)"><text transform="translate(0 -4.14) scale(1 2.0) translate(0 4.14)" vector-effect="non-scaling-stroke" font-size="8.71" fill="#235787" stroke="#235787" stroke-width="0.55" textLength="16.71" lengthAdjust="spacing">good</text></g></g>
<g transform="translate(311.25 159.5) scale(0.9890 1)"><text id="t15" clip-path="url(#a15)" font-size="9.80" fill="#1c3a5e" stroke="#1c3a5e" stroke-width="0.55" textLength="33.38" lengthAdjust="spacing">Whether</text><g clip-path="url(#b15)"><text transform="translate(0 -4.66) scale(1 2.0) translate(0 4.66)" vector-effect="non-scaling-stroke" font-size="9.80" fill="#1c3a5e" stroke="#1c3a5e" stroke-width="0.55" textLength="33.38" lengthAdjust="spacing">Whether</text></g></g>
<g transform="translate(236.7 200.3) scale(1.1198 1)"><text id="t16" clip-path="url(#a16)" font-size="13.29" fill="#0f1c33" stroke="#0f1c33" stroke-width="0.51" textLength="33.05" lengthAdjust="spacing">occur</text><g clip-path="url(#b16)"><text transform="translate(0 -6.31) scale(1 2.0) translate(0 6.31)" vector-effect="non-scaling-stroke" font-size="13.29" fill="#0f1c33" stroke="#0f1c33" stroke-width="0.51" textLength="33.05" lengthAdjust="spacing">occur</text></g></g>
<g transform="translate(184.2 200.3) scale(1.0652 1)"><text id="t17" clip-path="url(#a17)" font-size="7.19" fill="#3a7ab0" stroke="#3a7ab0" stroke-width="0.55" textLength="28.36" lengthAdjust="spacing">organısm</text><g clip-path="url(#b17)"><text transform="translate(0 -3.42) scale(1 2.0) translate(0 3.42)" vector-effect="non-scaling-stroke" font-size="7.19" fill="#3a7ab0" stroke="#3a7ab0" stroke-width="0.55" textLength="28.36" lengthAdjust="spacing">organısm</text></g><circle cx="18.48" cy="-6.60" r="0.60" fill="#3a7ab0"/></g>
<g transform="translate(199.2 217) scale(1.0340 1)"><text id="t18" clip-path="url(#a18)" font-size="15.25" fill="#1c3a5e" stroke="#1c3a5e" stroke-width="0.49" textLength="64.80" lengthAdjust="spacing">assocıated</text><g clip-path="url(#b18)"><text transform="translate(0 -7.24) scale(1 2.0) translate(0 7.24)" vector-effect="non-scaling-stroke" font-size="15.25" fill="#1c3a5e" stroke="#1c3a5e" stroke-width="0.49" textLength="64.80" lengthAdjust="spacing">assocıated</text></g><circle cx="36.34" cy="-14.00" r="1.07" fill="#1c3a5e"/></g>
<g transform="translate(200.0 225.8) scale(0.9703 1)"><text id="t19" clip-path="url(#a19)" font-size="8.71" fill="#3a7ab0" stroke="#3a7ab0" stroke-width="0.55" textLength="18.78" lengthAdjust="spacing">break</text><g clip-path="url(#b19)"><text transform="translate(0 -4.14) scale(1 2.0) translate(0 4.14)" vector-effect="non-scaling-stroke" font-size="8.71" fill="#3a7ab0" stroke="#3a7ab0" stroke-width="0.55" textLength="18.78" lengthAdjust="spacing">break</text></g></g>
<g transform="translate(222.5 230) scale(1.0295 1)"><text id="t20" clip-path="url(#a20)" font-size="11.98" fill="#235787" stroke="#235787" stroke-width="0.53" textLength="37.70" lengthAdjust="spacing">bındıng</text><g clip-path="url(#b20)"><text transform="translate(0 -5.69) scale(1 2.0) translate(0 5.69)" vector-effect="non-scaling-stroke" font-size="11.98" fill="#235787" stroke="#235787" stroke-width="0.53" textLength="37.70" lengthAdjust="spacing">bındıng</text></g><circle cx="7.84" cy="-11.00" r="0.84" fill="#235787"/><circle cx="23.69" cy="-11.00" r="0.84" fill="#235787"/></g>
<g transform="translate(200.8 240) scale(1.0153 1)"><text id="t21" clip-path="url(#a21)" font-size="11.98" fill="#235787" stroke="#235787" stroke-width="0.53" textLength="62.85" lengthAdjust="spacing">chromosome</text><g clip-path="url(#b21)"><text transform="translate(0 -5.69) scale(1 2.0) translate(0 5.69)" vector-effect="non-scaling-stroke" font-size="11.98" fill="#235787" stroke="#235787" stroke-width="0.53" textLength="62.85" lengthAdjust="spacing">chromosome</text></g></g>
<g transform="translate(200.0 253.3) scale(1.0413 1)"><text id="t22" clip-path="url(#a22)" font-size="11.98" fill="#3a5a85" stroke="#3a5a85" stroke-width="0.53" textLength="54.75" lengthAdjust="spacing">controllıng</text><g clip-path="url(#b22)"><text transform="translate(0 -5.69) scale(1 2.0) translate(0 5.69)" vector-effect="non-scaling-stroke" font-size="11.98" fill="#3a5a85" stroke="#3a5a85" stroke-width="0.53" textLength="54.75" lengthAdjust="spacing">controllıng</text></g><circle cx="40.68" cy="-11.00" r="0.84" fill="#3a5a85"/></g>
<g transform="translate(268.3 250.8) scale(1.1238 1)"><text id="t23" clip-path="url(#a23)" font-size="20.04" fill="#1e3a3a" stroke="#1e3a3a" stroke-width="0.44" textLength="40.04" lengthAdjust="spacing">bınd</text><g clip-path="url(#b23)"><text transform="translate(0 -9.52) scale(1 2.0) translate(0 9.52)" vector-effect="non-scaling-stroke" font-size="20.04" fill="#1e3a3a" stroke="#1e3a3a" stroke-width="0.44" textLength="40.04" lengthAdjust="spacing">bınd</text></g><circle cx="14.27" cy="-18.40" r="1.40" fill="#1e3a3a"/></g>
<g transform="translate(189.8 276.3) scale(1.1621 1)"><text id="t24" clip-path="url(#a24)" font-size="35.51" fill="#2a2018" stroke="#2a2018" stroke-width="0.27" textLength="111.53" lengthAdjust="spacing">energy</text><g clip-path="url(#b24)"><text transform="translate(0 -16.87) scale(1 2.0) translate(0 16.87)" vector-effect="non-scaling-stroke" font-size="35.51" fill="#2a2018" stroke="#2a2018" stroke-width="0.27" textLength="111.53" lengthAdjust="spacing">energy</text></g></g>
<g transform="translate(176.7 298.3) scale(1.0292 1)"><text id="t25" clip-path="url(#a25)" font-size="16.34" fill="#1c3a5e" stroke="#1c3a5e" stroke-width="0.48" textLength="48.58" lengthAdjust="spacing">dısplay</text><g clip-path="url(#b25)"><text transform="translate(0 -7.76) scale(1 2.0) translate(0 7.76)" vector-effect="non-scaling-stroke" font-size="16.34" fill="#1c3a5e" stroke="#1c3a5e" stroke-width="0.48" textLength="48.58" lengthAdjust="spacing">dısplay</text></g><circle cx="10.67" cy="-15.00" r="1.14" fill="#1c3a5e"/></g>
<g transform="translate(183.3 320.8) scale(1.1526 1)"><text id="t26" clip-path="url(#a26)" font-size="14.60" fill="#235787" stroke="#235787" stroke-width="0.50" textLength="39.74" lengthAdjust="spacing">Water</text><g clip-path="url(#b26)"><text transform="translate(0 -6.93) scale(1 2.0) translate(0 6.93)" vector-effect="non-scaling-stroke" font-size="14.60" fill="#235787" stroke="#235787" stroke-width="0.50" textLength="39.74" lengthAdjust="spacing">Water</text></g></g>
<g transform="translate(166.7 351.7) scale(1.1723 1)"><text id="t27" clip-path="url(#a27)" font-size="8.06" fill="#235787" stroke="#235787" stroke-width="0.55" textLength="20.47" lengthAdjust="spacing">DNA</text><g clip-path="url(#b27)"><text transform="translate(0 -3.83) scale(1 2.0) translate(0 3.83)" vector-effect="non-scaling-stroke" font-size="8.06" fill="#235787" stroke="#235787" stroke-width="0.55" textLength="20.47" lengthAdjust="spacing">DNA</text></g></g>
<g transform="translate(169.2 358.3) scale(1.1527 1)"><text id="t28" clip-path="url(#a28)" font-size="9.80" fill="#235787" stroke="#235787" stroke-width="0.55" textLength="24.47" lengthAdjust="spacing">event</text><g clip-path="url(#b28)"><text transform="translate(0 -4.66) scale(1 2.0) translate(0 4.66)" vector-effect="non-scaling-stroke" font-size="9.80" fill="#235787" stroke="#235787" stroke-width="0.55" textLength="24.47" lengthAdjust="spacing">event</text></g></g>
<g transform="translate(225.0 367.5) scale(1.0870 1)"><text id="t29" clip-path="url(#a29)" font-size="7.63" fill="#3a7ab0" stroke="#3a7ab0" stroke-width="0.55" textLength="24.86" lengthAdjust="spacing">actıvıty</text><g clip-path="url(#b29)"><text transform="translate(0 -3.62) scale(1 2.0) translate(0 3.62)" vector-effect="non-scaling-stroke" font-size="7.63" fill="#3a7ab0" stroke="#3a7ab0" stroke-width="0.55" textLength="24.86" lengthAdjust="spacing">actıvıty</text></g><circle cx="10.79" cy="-7.00" r="0.60" fill="#3a7ab0"/><circle cx="17.30" cy="-7.00" r="0.60" fill="#3a7ab0"/></g>
<g transform="translate(281.7 385.8) scale(1.0152 1)"><text id="t30" clip-path="url(#a30)" font-size="16.34" fill="#1c3a5e" stroke="#1c3a5e" stroke-width="0.48" textLength="42.37" lengthAdjust="spacing">alleles</text><g clip-path="url(#b30)"><text transform="translate(0 -7.76) scale(1 2.0) translate(0 7.76)" vector-effect="non-scaling-stroke" font-size="16.34" fill="#1c3a5e" stroke="#1c3a5e" stroke-width="0.48" textLength="42.37" lengthAdjust="spacing">alleles</text></g></g>
<g transform="translate(353.3 341.7) scale(1.0507 1)"><text id="t31" clip-path="url(#a31)" font-size="7.63" fill="#235787" stroke="#235787" stroke-width="0.55" textLength="36.94" lengthAdjust="spacing">movements</text><g clip-path="url(#b31)"><text transform="translate(0 -3.62) scale(1 2.0) translate(0 3.62)" vector-effect="non-scaling-stroke" font-size="7.63" fill="#235787" stroke="#235787" stroke-width="0.55" textLength="36.94" lengthAdjust="spacing">movements</text></g></g>
<g transform="translate(310.0 353.3) scale(1.0787 1)"><text id="t32" clip-path="url(#a32)" font-size="14.60" fill="#0f1c33" stroke="#0f1c33" stroke-width="0.50" textLength="80.47" lengthAdjust="spacing">homozygous</text><g clip-path="url(#b32)"><text transform="translate(0 -6.93) scale(1 2.0) translate(0 6.93)" vector-effect="non-scaling-stroke" font-size="14.60" fill="#0f1c33" stroke="#0f1c33" stroke-width="0.50" textLength="80.47" lengthAdjust="spacing">homozygous</text></g></g>
<g transform="translate(316.7 370) scale(1.1932 1)"><text id="t33" clip-path="url(#a33)" font-size="13.07" fill="#0f1c33" stroke="#0f1c33" stroke-width="0.52" textLength="35.21" lengthAdjust="spacing">effect</text><g clip-path="url(#b33)"><text transform="translate(0 -6.21) scale(1 2.0) translate(0 6.21)" vector-effect="non-scaling-stroke" font-size="13.07" fill="#0f1c33" stroke="#0f1c33" stroke-width="0.52" textLength="35.21" lengthAdjust="spacing">effect</text></g></g>
<g transform="translate(334.2 380) scale(1.0575 1)"><text id="t34" clip-path="url(#a34)" font-size="7.63" fill="#7a80b0" stroke="#7a80b0" stroke-width="0.55" textLength="26.88" lengthAdjust="spacing">ınabılıty</text><g clip-path="url(#b34)"><text transform="translate(0 -3.62) scale(1 2.0) translate(0 3.62)" vector-effect="non-scaling-stroke" font-size="7.63" fill="#7a80b0" stroke="#7a80b0" stroke-width="0.55" textLength="26.88" lengthAdjust="spacing">ınabılıty</text></g><circle cx="1.06" cy="-7.00" r="0.60" fill="#7a80b0"/><circle cx="14.91" cy="-7.00" r="0.60" fill="#7a80b0"/><circle cx="19.52" cy="-7.00" r="0.60" fill="#7a80b0"/></g>
<g transform="translate(334.2 390) scale(1.0687 1)"><text id="t35" clip-path="url(#a35)" font-size="10.89" fill="#1c3a5e" stroke="#1c3a5e" stroke-width="0.54" textLength="20.04" lengthAdjust="spacing">type</text><g clip-path="url(#b35)"><text transform="translate(0 -5.17) scale(1 2.0) translate(0 5.17)" vector-effect="non-scaling-stroke" font-size="10.89" fill="#1c3a5e" stroke="#1c3a5e" stroke-width="0.54" textLength="20.04" lengthAdjust="spacing">type</text></g></g>
<g transform="translate(340.6 219.8) scale(1.0269 1)"><text id="t36" clip-path="url(#a36)" font-size="7.63" fill="#3a7ab0" stroke="#3a7ab0" stroke-width="0.55" textLength="18.71" lengthAdjust="spacing">bonds</text><g clip-path="url(#b36)"><text transform="translate(0 -3.62) scale(1 2.0) translate(0 3.62)" vector-effect="non-scaling-stroke" font-size="7.63" fill="#3a7ab0" stroke="#3a7ab0" stroke-width="0.55" textLength="18.71" lengthAdjust="spacing">bonds</text></g></g>
<g transform="translate(418.3 407.7) scale(1.0524 1)"><text id="t37" clip-path="url(#a37)" font-size="22.66" fill="#0f1c33" stroke="#0f1c33" stroke-width="0.41" textLength="39.73" lengthAdjust="spacing">new</text><g clip-path="url(#b37)"><text transform="translate(0 -10.76) scale(1 2.0) translate(0 10.76)" vector-effect="non-scaling-stroke" font-size="22.66" fill="#0f1c33" stroke="#0f1c33" stroke-width="0.41" textLength="39.73" lengthAdjust="spacing">new</text></g></g>
<g transform="translate(378.4 232.5) scale(1.2217 1)"><text id="t38" clip-path="url(#a38)" font-size="32.68" fill="#2b2a1c" stroke="#2b2a1c" stroke-width="0.30" textLength="121.96" lengthAdjust="spacing">product</text><g clip-path="url(#b38)"><text transform="translate(0 -15.52) scale(1 2.0) translate(0 15.52)" vector-effect="non-scaling-stroke" font-size="32.68" fill="#2b2a1c" stroke="#2b2a1c" stroke-width="0.30" textLength="121.96" lengthAdjust="spacing">product</text></g></g>
<g transform="translate(407.5 241.6) scale(1.0401 1)"><text id="t39" clip-path="url(#a39)" font-size="7.63" fill="#3a7ab0" stroke="#3a7ab0" stroke-width="0.55" textLength="33.47" lengthAdjust="spacing">membrane</text><g clip-path="url(#b39)"><text transform="translate(0 -3.62) scale(1 2.0) translate(0 3.62)" vector-effect="non-scaling-stroke" font-size="7.63" fill="#3a7ab0" stroke="#3a7ab0" stroke-width="0.55" textLength="33.47" lengthAdjust="spacing">membrane</text></g></g>
<g transform="translate(433.75 253) scale(1.0778 1)"><text id="t40" clip-path="url(#a40)" font-size="14.16" fill="#0f1c33" stroke="#0f1c33" stroke-width="0.50" textLength="43.23" lengthAdjust="spacing">normal</text><g clip-path="url(#b40)"><text transform="translate(0 -6.73) scale(1 2.0) translate(0 6.73)" vector-effect="non-scaling-stroke" font-size="14.16" fill="#0f1c33" stroke="#0f1c33" stroke-width="0.50" textLength="43.23" lengthAdjust="spacing">normal</text></g></g>
<g transform="translate(485.3 246) scale(1.0527 1)"><text id="t41" clip-path="url(#a41)" font-size="7.63" fill="#3a7ab0" stroke="#3a7ab0" stroke-width="0.55" textLength="46.37" lengthAdjust="spacing">recombınatıon</text><g clip-path="url(#b41)"><text transform="translate(0 -3.62) scale(1 2.0) translate(0 3.62)" vector-effect="non-scaling-stroke" font-size="7.63" fill="#3a7ab0" stroke="#3a7ab0" stroke-width="0.55" textLength="46.37" lengthAdjust="spacing">recombınatıon</text></g><circle cx="25.08" cy="-7.00" r="0.60" fill="#3a7ab0"/><circle cx="37.29" cy="-7.00" r="0.60" fill="#3a7ab0"/></g>
<g transform="translate(499.4 254.5) scale(1.0162 1)"><text id="t42" clip-path="url(#a42)" font-size="7.63" fill="#3a7ab0" stroke="#3a7ab0" stroke-width="0.55" textLength="13.78" lengthAdjust="spacing">sıtes</text><g clip-path="url(#b42)"><text transform="translate(0 -3.62) scale(1 2.0) translate(0 3.62)" vector-effect="non-scaling-stroke" font-size="7.63" fill="#3a7ab0" stroke="#3a7ab0" stroke-width="0.55" textLength="13.78" lengthAdjust="spacing">sıtes</text></g><circle cx="4.08" cy="-7.00" r="0.60" fill="#3a7ab0"/></g>
<g transform="translate(416.8 277.5) scale(1.2001 1)"><text id="t43" clip-path="url(#a43)" font-size="36.60" fill="#0f1c33" stroke="#0f1c33" stroke-width="0.26" textLength="156.16" lengthAdjust="spacing">mutatıon</text><g clip-path="url(#b43)"><text transform="translate(0 -17.39) scale(1 2.0) translate(0 17.39)" vector-effect="non-scaling-stroke" font-size="36.60" fill="#0f1c33" stroke="#0f1c33" stroke-width="0.26" textLength="156.16" lengthAdjust="spacing">mutatıon</text></g><circle cx="107.04" cy="-39.31" r="2.56" fill="#0f1c33"/></g>
<g transform="translate(372.8 274.7) scale(1.0720 1)"><text id="t44" clip-path="url(#a44)" font-size="7.63" fill="#3a7ab0" stroke="#3a7ab0" stroke-width="0.55" textLength="23.15" lengthAdjust="spacing">proteın</text><g clip-path="url(#b44)"><text transform="translate(0 -3.62) scale(1 2.0) translate(0 3.62)" vector-effect="non-scaling-stroke" font-size="7.63" fill="#3a7ab0" stroke="#3a7ab0" stroke-width="0.55" textLength="23.15" lengthAdjust="spacing">proteın</text></g><circle cx="18.02" cy="-7.00" r="0.60" fill="#3a7ab0"/></g>
<g transform="translate(538.5 233.3) scale(1.0580 1)"><text id="t45" clip-path="url(#a45)" font-size="7.63" fill="#3a7ab0" stroke="#3a7ab0" stroke-width="0.55" textLength="13.44" lengthAdjust="spacing">way</text><g clip-path="url(#b45)"><text transform="translate(0 -3.62) scale(1 2.0) translate(0 3.62)" vector-effect="non-scaling-stroke" font-size="7.63" fill="#3a7ab0" stroke="#3a7ab0" stroke-width="0.55" textLength="13.44" lengthAdjust="spacing">way</text></g></g>
<g transform="translate(384.2 191.6) scale(1.1987 1)"><text id="t46" clip-path="url(#a46)" font-size="32.24" fill="#2b2a1c" stroke="#2b2a1c" stroke-width="0.31" textLength="141.66" lengthAdjust="spacing">molecule</text><g clip-path="url(#b46)"><text transform="translate(0 -15.32) scale(1 2.0) translate(0 15.32)" vector-effect="non-scaling-stroke" font-size="32.24" fill="#2b2a1c" stroke="#2b2a1c" stroke-width="0.31" textLength="141.66" lengthAdjust="spacing">molecule</text></g></g>
<g transform="translate(380.0 206.25) scale(1.0140 1)"><text id="t47" clip-path="url(#a47)" font-size="13.07" fill="#1c3a5e" stroke="#1c3a5e" stroke-width="0.52" textLength="49.31" lengthAdjust="spacing">ınfluence</text><g clip-path="url(#b47)"><text transform="translate(0 -6.21) scale(1 2.0) translate(0 6.21)" vector-effect="non-scaling-stroke" font-size="13.07" fill="#1c3a5e" stroke="#1c3a5e" stroke-width="0.52" textLength="49.31" lengthAdjust="spacing">ınfluence</text></g><circle cx="1.82" cy="-12.00" r="0.92" fill="#1c3a5e"/></g>
<g transform="translate(471.7 206.9) scale(0.9926 1)"><text id="t48" clip-path="url(#a48)" font-size="13.73" fill="#1c3a5e" stroke="#1c3a5e" stroke-width="0.51" textLength="43.13" lengthAdjust="spacing">harmful</text><g clip-path="url(#b48)"><text transform="translate(0 -6.52) scale(1 2.0) translate(0 6.52)" vector-effect="non-scaling-stroke" font-size="13.73" fill="#1c3a5e" stroke="#1c3a5e" stroke-width="0.51" textLength="43.13" lengthAdjust="spacing">harmful</text></g></g>
<g transform="translate(526.9 200.6) scale(1.0548 1)"><text id="t49" clip-path="url(#a49)" font-size="10.89" fill="#1c3a5e" stroke="#1c3a5e" stroke-width="0.54" textLength="15.96" lengthAdjust="spacing">test</text><g clip-path="url(#b49)"><text transform="translate(0 -5.17) scale(1 2.0) translate(0 5.17)" vector-effect="non-scaling-stroke" font-size="10.89" fill="#1c3a5e" stroke="#1c3a5e" stroke-width="0.54" textLength="15.96" lengthAdjust="spacing">test</text></g></g>
<g transform="translate(464.8 166.5) scale(1.0735 1)"><text id="t50" clip-path="url(#a50)" font-size="11.33" fill="#235787" stroke="#235787" stroke-width="0.54" textLength="46.59" lengthAdjust="spacing">partıcular</text><g clip-path="url(#b50)"><text transform="translate(0 -5.38) scale(1 2.0) translate(0 5.38)" vector-effect="non-scaling-stroke" font-size="11.33" fill="#235787" stroke="#235787" stroke-width="0.54" textLength="46.59" lengthAdjust="spacing">partıcular</text></g><circle cx="20.60" cy="-10.40" r="0.79" fill="#235787"/></g>
<g transform="translate(461.7 147.3) scale(1.1590 1)"><text id="t51" clip-path="url(#a51)" font-size="13.07" fill="#1c3a5e" stroke="#1c3a5e" stroke-width="0.52" textLength="60.57" lengthAdjust="spacing">frequency</text><g clip-path="url(#b51)"><text transform="translate(0 -6.21) scale(1 2.0) translate(0 6.21)" vector-effect="non-scaling-stroke" font-size="13.07" fill="#1c3a5e" stroke="#1c3a5e" stroke-width="0.52" textLength="60.57" lengthAdjust="spacing">frequency</text></g></g>
<g transform="translate(457.5 98.75) scale(1.1475 1)"><text id="t52" clip-path="url(#a52)" font-size="9.80" fill="#235787" stroke="#235787" stroke-width="0.55" textLength="33.12" lengthAdjust="spacing">dıstınct</text><g clip-path="url(#b52)"><text transform="translate(0 -4.66) scale(1 2.0) translate(0 4.66)" vector-effect="non-scaling-stroke" font-size="9.80" fill="#235787" stroke="#235787" stroke-width="0.55" textLength="33.12" lengthAdjust="spacing">dıstınct</text></g><circle cx="6.86" cy="-9.00" r="0.69" fill="#235787"/><circle cx="17.96" cy="-9.00" r="0.69" fill="#235787"/></g>
<g transform="translate(456.5 110.3) scale(1.1887 1)"><text id="t53" clip-path="url(#a53)" font-size="16.99" fill="#0f1c33" stroke="#0f1c33" stroke-width="0.47" textLength="26.93" lengthAdjust="spacing">use</text><g clip-path="url(#b53)"><text transform="translate(0 -8.07) scale(1 2.0) translate(0 8.07)" vector-effect="non-scaling-stroke" font-size="16.99" fill="#0f1c33" stroke="#0f1c33" stroke-width="0.47" textLength="26.93" lengthAdjust="spacing">use</text></g></g>
<g transform="translate(454.4 129) scale(1.0468 1)"><text id="t54" clip-path="url(#a54)" font-size="11.55" fill="#235787" stroke="#235787" stroke-width="0.53" textLength="24.84" lengthAdjust="spacing">close</text><g clip-path="url(#b54)"><text transform="translate(0 -5.48) scale(1 2.0) translate(0 5.48)" vector-effect="non-scaling-stroke" font-size="11.55" fill="#235787" stroke="#235787" stroke-width="0.53" textLength="24.84" lengthAdjust="spacing">close</text></g></g>
<g transform="translate(582.5 121.5) scale(0.9613 1)"><text id="t55" clip-path="url(#a55)" font-size="7.63" fill="#235787" stroke="#235787" stroke-width="0.55" textLength="18.73" lengthAdjust="spacing">makes</text><g clip-path="url(#b55)"><text transform="translate(0 -3.62) scale(1 2.0) translate(0 3.62)" vector-effect="non-scaling-stroke" font-size="7.63" fill="#235787" stroke="#235787" stroke-width="0.55" textLength="18.73" lengthAdjust="spacing">makes</text></g></g>
<g transform="translate(608.3 155) scale(1.1806 1)"><text id="t56" clip-path="url(#a56)" font-size="20.48" fill="#2b2a1c" stroke="#2b2a1c" stroke-width="0.43" textLength="17.45" lengthAdjust="spacing">al</text><g clip-path="url(#b56)"><text transform="translate(0 -9.73) scale(1 2.0) translate(0 9.73)" vector-effect="non-scaling-stroke" font-size="20.48" fill="#2b2a1c" stroke="#2b2a1c" stroke-width="0.43" textLength="17.45" lengthAdjust="spacing">al</text></g></g>
<g transform="translate(611.5 176.9) scale(1.1673 1)"><text id="t57" clip-path="url(#a57)" font-size="15.90" fill="#0f1c33" stroke="#0f1c33" stroke-width="0.49" textLength="65.96" lengthAdjust="spacing">ıncorrect</text><g clip-path="url(#b57)"><text transform="translate(0 -7.55) scale(1 2.0) translate(0 7.55)" vector-effect="non-scaling-stroke" font-size="15.90" fill="#0f1c33" stroke="#0f1c33" stroke-width="0.49" textLength="65.96" lengthAdjust="spacing">ıncorrect</text></g><circle cx="2.21" cy="-14.60" r="1.11" fill="#0f1c33"/></g>
<g transform="translate(651.0 199.8) scale(1.0747 1)"><text id="t58" clip-path="url(#a58)" font-size="15.90" fill="#1c3a5e" stroke="#1c3a5e" stroke-width="0.49" textLength="62.35" lengthAdjust="spacing">offsprıng</text><g clip-path="url(#b58)"><text transform="translate(0 -7.55) scale(1 2.0) translate(0 7.55)" vector-effect="non-scaling-stroke" font-size="15.90" fill="#1c3a5e" stroke="#1c3a5e" stroke-width="0.49" textLength="62.35" lengthAdjust="spacing">offsprıng</text></g><circle cx="43.16" cy="-14.60" r="1.11" fill="#1c3a5e"/></g>
<g transform="translate(665.6 245.8) scale(1.0270 1)"><text id="t59" clip-path="url(#a59)" font-size="7.63" fill="#235787" stroke="#235787" stroke-width="0.55" textLength="18.71" lengthAdjust="spacing">sıngle</text><g clip-path="url(#b59)"><text transform="translate(0 -3.62) scale(1 2.0) translate(0 3.62)" vector-effect="non-scaling-stroke" font-size="7.63" fill="#235787" stroke="#235787" stroke-width="0.55" textLength="18.71" lengthAdjust="spacing">sıngle</text></g><circle cx="4.13" cy="-7.00" r="0.60" fill="#235787"/></g>
<g transform="translate(609.4 270.8) scale(1.0955 1)"><text id="t60" clip-path="url(#a60)" font-size="20.26" fill="#1e3a40" stroke="#1e3a40" stroke-width="0.44" textLength="64.08" lengthAdjust="spacing">located</text><g clip-path="url(#b60)"><text transform="translate(0 -9.62) scale(1 2.0) translate(0 9.62)" vector-effect="non-scaling-stroke" font-size="20.26" fill="#1e3a40" stroke="#1e3a40" stroke-width="0.44" textLength="64.08" lengthAdjust="spacing">located</text></g></g>
<g transform="translate(617.7 279.2) scale(1.0078 1)"><text id="t61" clip-path="url(#a61)" font-size="7.63" fill="#235787" stroke="#235787" stroke-width="0.55" textLength="11.95" lengthAdjust="spacing">part</text><g clip-path="url(#b61)"><text transform="translate(0 -3.62) scale(1 2.0) translate(0 3.62)" vector-effect="non-scaling-stroke" font-size="7.63" fill="#235787" stroke="#235787" stroke-width="0.55" textLength="11.95" lengthAdjust="spacing">part</text></g></g>
<g transform="translate(640.6 282.3) scale(1.0425 1)"><text id="t62" clip-path="url(#a62)" font-size="8.71" fill="#3f7f95" stroke="#3f7f95" stroke-width="0.55" textLength="36.84" lengthAdjust="spacing">Mutatıons</text><g clip-path="url(#b62)"><text transform="translate(0 -4.14) scale(1 2.0) translate(0 4.14)" vector-effect="non-scaling-stroke" font-size="8.71" fill="#3f7f95" stroke="#3f7f95" stroke-width="0.55" textLength="36.84" lengthAdjust="spacing">Mutatıons</text></g><circle cx="22.97" cy="-8.00" r="0.61" fill="#3f7f95"/></g>
<g transform="translate(698.0 293.75) scale(1.0409 1)"><text id="t63" clip-path="url(#a63)" font-size="7.63" fill="#235787" stroke="#235787" stroke-width="0.55" textLength="18.08" lengthAdjust="spacing">exısts</text><g clip-path="url(#b63)"><text transform="translate(0 -3.62) scale(1 2.0) translate(0 3.62)" vector-effect="non-scaling-stroke" font-size="7.63" fill="#235787" stroke="#235787" stroke-width="0.55" textLength="18.08" lengthAdjust="spacing">exısts</text></g><circle cx="8.53" cy="-7.00" r="0.60" fill="#235787"/></g>
<g transform="translate(530.0 297.2) scale(1.1821 1)"><text id="t64" clip-path="url(#a64)" font-size="22.44" fill="#0f1c33" stroke="#0f1c33" stroke-width="0.41" textLength="129.62" lengthAdjust="spacing">acupuncture</text><g clip-path="url(#b64)"><text transform="translate(0 -10.66) scale(1 2.0) translate(0 10.66)" vector-effect="non-scaling-stroke" font-size="22.44" fill="#0f1c33" stroke="#0f1c33" stroke-width="0.41" textLength="129.62" lengthAdjust="spacing">acupuncture</text></g></g>
<g transform="translate(506.5 323.4) scale(1.2475 1)"><text id="t65" clip-path="url(#a65)" font-size="34.42" fill="#0f1c33" stroke="#0f1c33" stroke-width="0.40" textLength="81.49" lengthAdjust="spacing">genes</text><g clip-path="url(#b65)"><text transform="translate(0 -16.35) scale(1 2.0) translate(0 16.35)" vector-effect="non-scaling-stroke" font-size="34.42" fill="#0f1c33" stroke="#0f1c33" stroke-width="0.40" textLength="81.49" lengthAdjust="spacing">genes</text></g></g>
<g transform="translate(550.6 304.7) scale(1.0403 1)"><text id="t66" clip-path="url(#a66)" font-size="7.63" fill="#3a7ab0" stroke="#3a7ab0" stroke-width="0.55" textLength="12.33" lengthAdjust="spacing">rule</text><g clip-path="url(#b66)"><text transform="translate(0 -3.62) scale(1 2.0) translate(0 3.62)" vector-effect="non-scaling-stroke" font-size="7.63" fill="#3a7ab0" stroke="#3a7ab0" stroke-width="0.55" textLength="12.33" lengthAdjust="spacing">rule</text></g></g>
<g transform="translate(615.3 311.25) scale(0.9857 1)"><text id="t67" clip-path="url(#a67)" font-size="14.16" fill="#235787" stroke="#235787" stroke-width="0.50" textLength="36.94" lengthAdjust="spacing">effects</text><g clip-path="url(#b67)"><text transform="translate(0 -6.73) scale(1 2.0) translate(0 6.73)" vector-effect="non-scaling-stroke" font-size="14.16" fill="#235787" stroke="#235787" stroke-width="0.50" textLength="36.94" lengthAdjust="spacing">effects</text></g></g>
<g transform="translate(655.6 321.6) scale(1.0590 1)"><text id="t68" clip-path="url(#a68)" font-size="33.00" fill="#202030" stroke="#202030" stroke-width="0.30" textLength="62.15" lengthAdjust="spacing">ATP</text><g clip-path="url(#b68)"><text transform="translate(0 -15.67) scale(1 1.0) translate(0 15.67)" vector-effect="non-scaling-stroke" font-size="33.00" fill="#202030" stroke="#202030" stroke-width="0.30" textLength="62.15" lengthAdjust="spacing">ATP</text></g></g>
<g transform="translate(536.6 334.7) scale(1.0139 1)"><text id="t69" clip-path="url(#a69)" font-size="7.63" fill="#6a9aa0" stroke="#6a9aa0" stroke-width="0.55" textLength="22.32" lengthAdjust="spacing">belıeve</text><g clip-path="url(#b69)"><text transform="translate(0 -3.62) scale(1 2.0) translate(0 3.62)" vector-effect="non-scaling-stroke" font-size="7.63" fill="#6a9aa0" stroke="#6a9aa0" stroke-width="0.55" textLength="22.32" lengthAdjust="spacing">belıeve</text></g><circle cx="10.53" cy="-7.00" r="0.60" fill="#6a9aa0"/></g>
<g transform="translate(585.3 332.8) scale(1.0596 1)"><text id="t70" clip-path="url(#a70)" font-size="7.63" fill="#235787" stroke="#235787" stroke-width="0.55" textLength="22.88" lengthAdjust="spacing">partner</text><g clip-path="url(#b70)"><text transform="translate(0 -3.62) scale(1 2.0) translate(0 3.62)" vector-effect="non-scaling-stroke" font-size="7.63" fill="#235787" stroke="#235787" stroke-width="0.55" textLength="22.88" lengthAdjust="spacing">partner</text></g></g>
<g transform="translate(616.25 331.9) scale(0.9613 1)"><text id="t71" clip-path="url(#a71)" font-size="14.16" fill="#1c3a5e" stroke="#1c3a5e" stroke-width="0.50" textLength="43.09" lengthAdjust="spacing">actıvely</text><g clip-path="url(#b71)"><text transform="translate(0 -6.73) scale(1 2.0) translate(0 6.73)" vector-effect="non-scaling-stroke" font-size="14.16" fill="#1c3a5e" stroke="#1c3a5e" stroke-width="0.50" textLength="43.09" lengthAdjust="spacing">actıvely</text></g><circle cx="17.74" cy="-13.00" r="0.99" fill="#1c3a5e"/></g>
<g transform="translate(507.5 355.2) scale(1.2827 1)"><text id="t72" clip-path="url(#a72)" font-size="26.58" fill="#0f1c33" stroke="#0f1c33" stroke-width="0.40" textLength="72.51" lengthAdjust="spacing">results</text><g clip-path="url(#b72)"><text transform="translate(0 -12.63) scale(1 2.0) translate(0 12.63)" vector-effect="non-scaling-stroke" font-size="26.58" fill="#0f1c33" stroke="#0f1c33" stroke-width="0.40" textLength="72.51" lengthAdjust="spacing">results</text></g></g>
<g transform="translate(527.5 378.7) scale(1.1008 1)"><text id="t73" clip-path="url(#a73)" font-size="20.70" fill="#203838" stroke="#203838" stroke-width="0.43" textLength="70.87" lengthAdjust="spacing">anımals</text><g clip-path="url(#b73)"><text transform="translate(0 -9.83) scale(1 2.0) translate(0 9.83)" vector-effect="non-scaling-stroke" font-size="20.70" fill="#203838" stroke="#203838" stroke-width="0.43" textLength="70.87" lengthAdjust="spacing">anımals</text></g><circle cx="24.57" cy="-19.00" r="1.45" fill="#203838"/></g>
<g transform="translate(536.7 389.2) scale(1.0045 1)"><text id="t74" clip-path="url(#a74)" font-size="8.71" fill="#235787" stroke="#235787" stroke-width="0.55" textLength="33.06" lengthAdjust="spacing">hydrogen</text><g clip-path="url(#b74)"><text transform="translate(0 -4.14) scale(1 2.0) translate(0 4.14)" vector-effect="non-scaling-stroke" font-size="8.71" fill="#235787" stroke="#235787" stroke-width="0.55" textLength="33.06" lengthAdjust="spacing">hydrogen</text></g></g>
<g transform="translate(514.2 398.3) scale(1.0479 1)"><text id="t75" clip-path="url(#a75)" font-size="7.63" fill="#235787" stroke="#235787" stroke-width="0.55" textLength="38.17" lengthAdjust="spacing">randomness</text><g clip-path="url(#b75)"><text transform="translate(0 -3.62) scale(1 2.0) translate(0 3.62)" vector-effect="non-scaling-stroke" font-size="7.63" fill="#235787" stroke="#235787" stroke-width="0.55" textLength="38.17" lengthAdjust="spacing">randomness</text></g></g>
<g transform="translate(458.75 286.25) scale(1.1026 1)"><text id="t76" clip-path="url(#a76)" font-size="7.63" fill="#235787" stroke="#235787" stroke-width="0.55" textLength="16.34" lengthAdjust="spacing">parts</text><g clip-path="url(#b76)"><text transform="translate(0 -3.62) scale(1 2.0) translate(0 3.62)" vector-effect="non-scaling-stroke" font-size="7.63" fill="#235787" stroke="#235787" stroke-width="0.55" textLength="16.34" lengthAdjust="spacing">parts</text></g></g>
<g transform="translate(487.5 287) scale(1.0476 1)"><text id="t77" clip-path="url(#a77)" font-size="7.63" fill="#235787" stroke="#235787" stroke-width="0.55" textLength="31.51" lengthAdjust="spacing">mutatıons</text><g clip-path="url(#b77)"><text transform="translate(0 -3.62) scale(1 2.0) translate(0 3.62)" vector-effect="non-scaling-stroke" font-size="7.63" fill="#235787" stroke="#235787" stroke-width="0.55" textLength="31.51" lengthAdjust="spacing">mutatıons</text></g><circle cx="19.32" cy="-7.00" r="0.60" fill="#235787"/></g>
<g transform="translate(374 333.23) rotate(-90) scale(0.9962 1)"><text id="t78" clip-path="url(#a78)" font-size="104.58" fill="#0f1c33" stroke="#0f1c33" stroke-width="1.40" textLength="52.09" lengthAdjust="spacing">g</text><g clip-path="url(#b78)"><text transform="translate(0 -49.67) scale(1 2.0) translate(0 49.67)" vector-effect="non-scaling-stroke" font-size="104.58" fill="#0f1c33" stroke="#0f1c33" stroke-width="1.40" textLength="52.09" lengthAdjust="spacing">g</text></g></g>
<g transform="translate(374 277.89) rotate(-90) scale(1.1209 1)"><text id="t79" clip-path="url(#a79)" font-size="104.58" fill="#0f1c33" stroke="#0f1c33" stroke-width="1.40" textLength="52.03" lengthAdjust="spacing">e</text><g clip-path="url(#b79)"><text transform="translate(0 -49.67) scale(1 2.0) translate(0 49.67)" vector-effect="non-scaling-stroke" font-size="104.58" fill="#0f1c33" stroke="#0f1c33" stroke-width="1.40" textLength="52.03" lengthAdjust="spacing">e</text></g></g>
<g transform="translate(374 219.46) rotate(-90) scale(1.2005 1)"><text id="t80" clip-path="url(#a80)" font-size="102.40" fill="#0f1c33" stroke="#0f1c33" stroke-width="1.40" textLength="61.46" lengthAdjust="spacing">n</text><g clip-path="url(#b80)"><text transform="translate(0 -48.64) scale(1 2.0) translate(0 48.64)" vector-effect="non-scaling-stroke" font-size="102.40" fill="#0f1c33" stroke="#0f1c33" stroke-width="1.40" textLength="61.46" lengthAdjust="spacing">n</text></g></g>
<g transform="translate(374 156.15) rotate(-90) scale(1.1625 1)"><text id="t81" clip-path="url(#a81)" font-size="102.40" fill="#0f1c33" stroke="#0f1c33" stroke-width="1.40" textLength="52.83" lengthAdjust="spacing">e</text><g clip-path="url(#b81)"><text transform="translate(0 -48.64) scale(1 2.0) translate(0 48.64)" vector-effect="non-scaling-stroke" font-size="102.40" fill="#0f1c33" stroke="#0f1c33" stroke-width="1.40" textLength="52.83" lengthAdjust="spacing">e</text></g></g>
<g transform="translate(171 304.5) rotate(-90) scale(1.3461 1)"><text id="t82" clip-path="url(#a82)" font-size="46.84" fill="#10161e" stroke="#10161e" stroke-width="0.60" textLength="79.49" lengthAdjust="spacing">traıt</text><g clip-path="url(#b82)"><text transform="translate(0 -22.25) scale(1 2.0) translate(0 22.25)" vector-effect="non-scaling-stroke" font-size="46.84" fill="#10161e" stroke="#10161e" stroke-width="0.60" textLength="79.49" lengthAdjust="spacing">traıt</text></g><circle cx="58.95" cy="-48.38" r="3.28" fill="#10161e"/></g>
<g transform="translate(285 158.41) rotate(-90) scale(1.0992 1)"><text id="t83" clip-path="url(#a83)" font-size="21.79" fill="#1c3a5e" stroke="#1c3a5e" stroke-width="0.42" textLength="74.46" lengthAdjust="spacing">specıfıc</text><g clip-path="url(#b83)"><text transform="translate(0 -10.35) scale(1 2.0) translate(0 10.35)" vector-effect="non-scaling-stroke" font-size="21.79" fill="#1c3a5e" stroke="#1c3a5e" stroke-width="0.42" textLength="74.46" lengthAdjust="spacing">specıfıc</text></g><circle cx="45.57" cy="-20.00" r="1.53" fill="#1c3a5e"/><circle cx="60.81" cy="-20.00" r="1.53" fill="#1c3a5e"/></g>
<g transform="translate(322.5 142.5) rotate(-90) scale(1.0168 1)"><text id="t84" clip-path="url(#a84)" font-size="8.71" fill="#3a7ab0" stroke="#3a7ab0" stroke-width="0.55" textLength="31.49" lengthAdjust="spacing">selectıon</text><g clip-path="url(#b84)"><text transform="translate(0 -4.14) scale(1 2.0) translate(0 4.14)" vector-effect="non-scaling-stroke" font-size="8.71" fill="#3a7ab0" stroke="#3a7ab0" stroke-width="0.55" textLength="31.49" lengthAdjust="spacing">selectıon</text></g><circle cx="21.43" cy="-8.00" r="0.61" fill="#3a7ab0"/></g>
<g transform="translate(238 161.25) rotate(-90) scale(0.8820 1)"><text id="t85" clip-path="url(#a85)" font-size="16.34" fill="#1c3a5e" stroke="#1c3a5e" stroke-width="0.48" textLength="54.44" lengthAdjust="spacing">domınant</text><g clip-path="url(#b85)"><text transform="translate(0 -7.76) scale(1 2.0) translate(0 7.76)" vector-effect="non-scaling-stroke" font-size="16.34" fill="#1c3a5e" stroke="#1c3a5e" stroke-width="0.48" textLength="54.44" lengthAdjust="spacing">domınant</text></g><circle cx="28.20" cy="-15.00" r="1.14" fill="#1c3a5e"/></g>
<g transform="translate(218 148.75) rotate(-90) scale(0.9583 1)"><text id="t86" clip-path="url(#a86)" font-size="9.80" fill="#3a7ab0" stroke="#3a7ab0" stroke-width="0.55" textLength="26.09" lengthAdjust="spacing">always</text><g clip-path="url(#b86)"><text transform="translate(0 -4.66) scale(1 2.0) translate(0 4.66)" vector-effect="non-scaling-stroke" font-size="9.80" fill="#3a7ab0" stroke="#3a7ab0" stroke-width="0.55" textLength="26.09" lengthAdjust="spacing">always</text></g></g>
<g transform="translate(251 170.0) rotate(-90) scale(0.9885 1)"><text id="t87" clip-path="url(#a87)" font-size="8.71" fill="#5a6a9a" stroke="#5a6a9a" stroke-width="0.55" textLength="26.31" lengthAdjust="spacing">number</text><g clip-path="url(#b87)"><text transform="translate(0 -4.14) scale(1 2.0) translate(0 4.14)" vector-effect="non-scaling-stroke" font-size="8.71" fill="#5a6a9a" stroke="#5a6a9a" stroke-width="0.55" textLength="26.31" lengthAdjust="spacing">number</text></g></g>
<g transform="translate(307.5 157.2) rotate(-90) scale(1.0520 1)"><text id="t88" clip-path="url(#a88)" font-size="17.43" fill="#1c3a5e" stroke="#1c3a5e" stroke-width="0.47" textLength="31.57" lengthAdjust="spacing">drıft</text><g clip-path="url(#b88)"><text transform="translate(0 -8.28) scale(1 2.0) translate(0 8.28)" vector-effect="non-scaling-stroke" font-size="17.43" fill="#1c3a5e" stroke="#1c3a5e" stroke-width="0.47" textLength="31.57" lengthAdjust="spacing">drıft</text></g><circle cx="17.72" cy="-16.00" r="1.22" fill="#1c3a5e"/></g>
<g transform="translate(117.4 244.7) rotate(-90) scale(1.1189 1)"><text id="t89" clip-path="url(#a89)" font-size="12.42" fill="#235787" stroke="#235787" stroke-width="0.52" textLength="46.30" lengthAdjust="spacing">functıon</text><g clip-path="url(#b89)"><text transform="translate(0 -5.90) scale(1 2.0) translate(0 5.90)" vector-effect="non-scaling-stroke" font-size="12.42" fill="#235787" stroke="#235787" stroke-width="0.52" textLength="46.30" lengthAdjust="spacing">functıon</text></g><circle cx="30.76" cy="-11.40" r="0.87" fill="#235787"/></g>
<g transform="translate(117 264.0) rotate(-90) scale(1.0010 1)"><text id="t90" clip-path="url(#a90)" font-size="7.63" fill="#3a7ab0" stroke="#3a7ab0" stroke-width="0.55" textLength="17.80" lengthAdjust="spacing">easıly</text><g clip-path="url(#b90)"><text transform="translate(0 -3.62) scale(1 2.0) translate(0 3.62)" vector-effect="non-scaling-stroke" font-size="7.63" fill="#3a7ab0" stroke="#3a7ab0" stroke-width="0.55" textLength="17.80" lengthAdjust="spacing">easıly</text></g><circle cx="10.80" cy="-7.00" r="0.60" fill="#3a7ab0"/></g>
<g transform="translate(102 283.4) rotate(-90) scale(0.9790 1)"><text id="t91" clip-path="url(#a91)" font-size="17.43" fill="#1c3a5e" stroke="#1c3a5e" stroke-width="0.47" textLength="62.53" lengthAdjust="spacing">recessıve</text><g clip-path="url(#b91)"><text transform="translate(0 -8.28) scale(1 2.0) translate(0 8.28)" vector-effect="non-scaling-stroke" font-size="17.43" fill="#1c3a5e" stroke="#1c3a5e" stroke-width="0.47" textLength="62.53" lengthAdjust="spacing">recessıve</text></g><circle cx="44.00" cy="-16.00" r="1.22" fill="#1c3a5e"/></g>
<g transform="translate(137.5 294.7) rotate(-90) scale(1.0487 1)"><text id="t92" clip-path="url(#a92)" font-size="20.04" fill="#0f1c33" stroke="#0f1c33" stroke-width="0.44" textLength="67.70" lengthAdjust="spacing">whether</text><g clip-path="url(#b92)"><text transform="translate(0 -9.52) scale(1 2.0) translate(0 9.52)" vector-effect="non-scaling-stroke" font-size="20.04" fill="#0f1c33" stroke="#0f1c33" stroke-width="0.44" textLength="67.70" lengthAdjust="spacing">whether</text></g></g>
<g transform="translate(181.7 250.8) rotate(-90) scale(1.0520 1)"><text id="t93" clip-path="url(#a93)" font-size="7.63" fill="#3a7ab0" stroke="#3a7ab0" stroke-width="0.55" textLength="14.26" lengthAdjust="spacing">tıme</text><g clip-path="url(#b93)"><text transform="translate(0 -3.62) scale(1 2.0) translate(0 3.62)" vector-effect="non-scaling-stroke" font-size="7.63" fill="#3a7ab0" stroke="#3a7ab0" stroke-width="0.55" textLength="14.26" lengthAdjust="spacing">tıme</text></g><circle cx="3.42" cy="-7.00" r="0.60" fill="#3a7ab0"/></g>
<g transform="translate(187.7 278.5) rotate(-90) scale(1.0109 1)"><text id="t94" clip-path="url(#a94)" font-size="13.07" fill="#1c3a5e" stroke="#1c3a5e" stroke-width="0.52" textLength="19.81" lengthAdjust="spacing">lıke</text><g clip-path="url(#b94)"><text transform="translate(0 -6.21) scale(1 2.0) translate(0 6.21)" vector-effect="non-scaling-stroke" font-size="13.07" fill="#1c3a5e" stroke="#1c3a5e" stroke-width="0.52" textLength="19.81" lengthAdjust="spacing">lıke</text></g><circle cx="5.53" cy="-12.00" r="0.92" fill="#1c3a5e"/></g>
<g transform="translate(77 318.3) rotate(-90) scale(0.9410 1)"><text id="t95" clip-path="url(#a95)" font-size="14.81" fill="#1c3a5e" stroke="#1c3a5e" stroke-width="0.50" textLength="38.69" lengthAdjust="spacing">correct</text><g clip-path="url(#b95)"><text transform="translate(0 -7.04) scale(1 2.0) translate(0 7.04)" vector-effect="non-scaling-stroke" font-size="14.81" fill="#1c3a5e" stroke="#1c3a5e" stroke-width="0.50" textLength="38.69" lengthAdjust="spacing">correct</text></g></g>
<g transform="translate(89 310.8) rotate(-90) scale(0.8732 1)"><text id="t96" clip-path="url(#a96)" font-size="16.34" fill="#235787" stroke="#235787" stroke-width="0.48" textLength="38.03" lengthAdjust="spacing">people</text><g clip-path="url(#b96)"><text transform="translate(0 -7.76) scale(1 2.0) translate(0 7.76)" vector-effect="non-scaling-stroke" font-size="16.34" fill="#235787" stroke="#235787" stroke-width="0.48" textLength="38.03" lengthAdjust="spacing">people</text></g></g>
<g transform="translate(97.5 323.3) rotate(-90) scale(0.9692 1)"><text id="t97" clip-path="url(#a97)" font-size="8.71" fill="#3a7ab0" stroke="#3a7ab0" stroke-width="0.55" textLength="30.95" lengthAdjust="spacing">sequence</text><g clip-path="url(#b97)"><text transform="translate(0 -4.14) scale(1 2.0) translate(0 4.14)" vector-effect="non-scaling-stroke" font-size="8.71" fill="#3a7ab0" stroke="#3a7ab0" stroke-width="0.55" textLength="30.95" lengthAdjust="spacing">sequence</text></g></g>
<g transform="translate(115.8 325.3) rotate(-90) scale(0.9982 1)"><text id="t98" clip-path="url(#a98)" font-size="17.43" fill="#1c3a5e" stroke="#1c3a5e" stroke-width="0.47" textLength="59.92" lengthAdjust="spacing">synthase</text><g clip-path="url(#b98)"><text transform="translate(0 -8.28) scale(1 2.0) translate(0 8.28)" vector-effect="non-scaling-stroke" font-size="17.43" fill="#1c3a5e" stroke="#1c3a5e" stroke-width="0.47" textLength="59.92" lengthAdjust="spacing">synthase</text></g></g>
<g transform="translate(126.7 327.5) rotate(-90) scale(1.0683 1)"><text id="t99" clip-path="url(#a99)" font-size="7.63" fill="#3a7ab0" stroke="#3a7ab0" stroke-width="0.55" textLength="40.26" lengthAdjust="spacing">accumulates</text><g clip-path="url(#b99)"><text transform="translate(0 -3.62) scale(1 2.0) translate(0 3.62)" vector-effect="non-scaling-stroke" font-size="7.63" fill="#3a7ab0" stroke="#3a7ab0" stroke-width="0.55" textLength="40.26" lengthAdjust="spacing">accumulates</text></g></g>
<g transform="translate(149.2 327.5) rotate(-90) scale(1.0791 1)"><text id="t100" clip-path="url(#a100)" font-size="6.54" fill="#3a7ab0" stroke="#3a7ab0" stroke-width="0.55" textLength="14.10" lengthAdjust="spacing">apart</text><g clip-path="url(#b100)"><text transform="translate(0 -3.10) scale(1 2.0) translate(0 3.10)" vector-effect="non-scaling-stroke" font-size="6.54" fill="#3a7ab0" stroke="#3a7ab0" stroke-width="0.55" textLength="14.10" lengthAdjust="spacing">apart</text></g></g>
<g transform="translate(160 335.8) rotate(-90) scale(1.0757 1)"><text id="t101" clip-path="url(#a101)" font-size="7.63" fill="#3a7ab0" stroke="#3a7ab0" stroke-width="0.55" textLength="23.24" lengthAdjust="spacing">dıploıd</text><g clip-path="url(#b101)"><text transform="translate(0 -3.62) scale(1 2.0) translate(0 3.62)" vector-effect="non-scaling-stroke" font-size="7.63" fill="#3a7ab0" stroke="#3a7ab0" stroke-width="0.55" textLength="23.24" lengthAdjust="spacing">dıploıd</text></g><circle cx="5.14" cy="-7.00" r="0.60" fill="#3a7ab0"/><circle cx="18.10" cy="-7.00" r="0.60" fill="#3a7ab0"/></g>
<g transform="translate(178 341.0) rotate(-90) scale(0.9804 1)"><text id="t102" clip-path="url(#a102)" font-size="16.34" fill="#1c3a5e" stroke="#1c3a5e" stroke-width="0.48" textLength="34.70" lengthAdjust="spacing">bases</text><g clip-path="url(#b102)"><text transform="translate(0 -7.76) scale(1 2.0) translate(0 7.76)" vector-effect="non-scaling-stroke" font-size="16.34" fill="#1c3a5e" stroke="#1c3a5e" stroke-width="0.48" textLength="34.70" lengthAdjust="spacing">bases</text></g></g>
<g transform="translate(197 256.5) rotate(-90) scale(1.1445 1)"><text id="t103" clip-path="url(#a103)" font-size="20.70" fill="#0f1c33" stroke="#0f1c33" stroke-width="0.43" textLength="47.36" lengthAdjust="spacing">traıts</text><g clip-path="url(#b103)"><text transform="translate(0 -9.83) scale(1 2.0) translate(0 9.83)" vector-effect="non-scaling-stroke" font-size="20.70" fill="#0f1c33" stroke="#0f1c33" stroke-width="0.43" textLength="47.36" lengthAdjust="spacing">traıts</text></g><circle cx="28.29" cy="-19.00" r="1.45" fill="#0f1c33"/></g>
<g transform="translate(180 210.8) rotate(-90) scale(1.0639 1)"><text id="t104" clip-path="url(#a104)" font-size="7.63" fill="#3a7ab0" stroke="#3a7ab0" stroke-width="0.55" textLength="17.12" lengthAdjust="spacing">types</text><g clip-path="url(#b104)"><text transform="translate(0 -3.62) scale(1 2.0) translate(0 3.62)" vector-effect="non-scaling-stroke" font-size="7.63" fill="#3a7ab0" stroke="#3a7ab0" stroke-width="0.55" textLength="17.12" lengthAdjust="spacing">types</text></g></g>
<g transform="translate(277.5 224.0) rotate(-90) scale(1.0627 1)"><text id="t105" clip-path="url(#a105)" font-size="7.63" fill="#3a7ab0" stroke="#3a7ab0" stroke-width="0.55" textLength="16.20" lengthAdjust="spacing">plant</text><g clip-path="url(#b105)"><text transform="translate(0 -3.62) scale(1 2.0) translate(0 3.62)" vector-effect="non-scaling-stroke" font-size="7.63" fill="#3a7ab0" stroke="#3a7ab0" stroke-width="0.55" textLength="16.20" lengthAdjust="spacing">plant</text></g></g>
<g transform="translate(299.2 231.0) rotate(-90) scale(1.0678 1)"><text id="t106" clip-path="url(#a106)" font-size="19.61" fill="#2a3a50" stroke="#2a3a50" stroke-width="0.44" textLength="33.73" lengthAdjust="spacing">fınd</text><g clip-path="url(#b106)"><text transform="translate(0 -9.31) scale(1 2.0) translate(0 9.31)" vector-effect="non-scaling-stroke" font-size="19.61" fill="#2a3a50" stroke="#2a3a50" stroke-width="0.44" textLength="33.73" lengthAdjust="spacing">fınd</text></g><circle cx="9.97" cy="-18.00" r="1.37" fill="#2a3a50"/></g>
<g transform="translate(312 224.2) rotate(-90) scale(1.0453 1)"><text id="t107" clip-path="url(#a107)" font-size="11.98" fill="#1c3a5e" stroke="#1c3a5e" stroke-width="0.53" textLength="28.52" lengthAdjust="spacing">shape</text><g clip-path="url(#b107)"><text transform="translate(0 -5.69) scale(1 2.0) translate(0 5.69)" vector-effect="non-scaling-stroke" font-size="11.98" fill="#1c3a5e" stroke="#1c3a5e" stroke-width="0.53" textLength="28.52" lengthAdjust="spacing">shape</text></g></g>
<g transform="translate(248.1 350.0) rotate(-90) scale(1.1231 1)"><text id="t108" clip-path="url(#a108)" font-size="23.97" fill="#0f1c33" stroke="#0f1c33" stroke-width="0.40" textLength="64.29" lengthAdjust="spacing">plants</text><g clip-path="url(#b108)"><text transform="translate(0 -11.38) scale(1 2.0) translate(0 11.38)" vector-effect="non-scaling-stroke" font-size="23.97" fill="#0f1c33" stroke="#0f1c33" stroke-width="0.40" textLength="64.29" lengthAdjust="spacing">plants</text></g></g>
<g transform="translate(258.3 322.0) rotate(-90) scale(1.0400 1)"><text id="t109" clip-path="url(#a109)" font-size="7.63" fill="#3a7ab0" stroke="#3a7ab0" stroke-width="0.55" textLength="25.99" lengthAdjust="spacing">justıfıed</text><g clip-path="url(#b109)"><text transform="translate(0 -3.62) scale(1 2.0) translate(0 3.62)" vector-effect="non-scaling-stroke" font-size="7.63" fill="#3a7ab0" stroke="#3a7ab0" stroke-width="0.55" textLength="25.99" lengthAdjust="spacing">justıfıed</text></g><circle cx="12.58" cy="-7.00" r="0.60" fill="#3a7ab0"/><circle cx="17.49" cy="-7.00" r="0.60" fill="#3a7ab0"/></g>
<g transform="translate(277.6 336.7) rotate(-90) scale(1.0438 1)"><text id="t110" clip-path="url(#a110)" font-size="14.81" fill="#1c3a5e" stroke="#1c3a5e" stroke-width="0.50" textLength="46.37" lengthAdjust="spacing">needles</text><g clip-path="url(#b110)"><text transform="translate(0 -7.04) scale(1 2.0) translate(0 7.04)" vector-effect="non-scaling-stroke" font-size="14.81" fill="#1c3a5e" stroke="#1c3a5e" stroke-width="0.50" textLength="46.37" lengthAdjust="spacing">needles</text></g></g>
<g transform="translate(266.8 370.5) rotate(-90) scale(1.0526 1)"><text id="t111" clip-path="url(#a111)" font-size="14.81" fill="#1c3a5e" stroke="#1c3a5e" stroke-width="0.50" textLength="38.96" lengthAdjust="spacing">parent</text><g clip-path="url(#b111)"><text transform="translate(0 -7.04) scale(1 2.0) translate(0 7.04)" vector-effect="non-scaling-stroke" font-size="14.81" fill="#1c3a5e" stroke="#1c3a5e" stroke-width="0.50" textLength="38.96" lengthAdjust="spacing">parent</text></g></g>
<g transform="translate(286.7 366.7) rotate(-90) scale(1.0702 1)"><text id="t112" clip-path="url(#a112)" font-size="11.98" fill="#235787" stroke="#235787" stroke-width="0.53" textLength="44.86" lengthAdjust="spacing">structure</text><g clip-path="url(#b112)"><text transform="translate(0 -5.69) scale(1 2.0) translate(0 5.69)" vector-effect="non-scaling-stroke" font-size="11.98" fill="#235787" stroke="#235787" stroke-width="0.53" textLength="44.86" lengthAdjust="spacing">structure</text></g></g>
<g transform="translate(302.6 362.0) rotate(-90) scale(0.9411 1)"><text id="t113" clip-path="url(#a113)" font-size="18.95" fill="#1c3a5e" stroke="#1c3a5e" stroke-width="0.45" textLength="76.30" lengthAdjust="spacing">populatıon</text><g clip-path="url(#b113)"><text transform="translate(0 -9.00) scale(1 2.0) translate(0 9.00)" vector-effect="non-scaling-stroke" font-size="18.95" fill="#1c3a5e" stroke="#1c3a5e" stroke-width="0.45" textLength="76.30" lengthAdjust="spacing">populatıon</text></g><circle cx="55.78" cy="-17.40" r="1.33" fill="#1c3a5e"/></g>
<g transform="translate(316.7 334.0) rotate(-90) scale(1.0552 1)"><text id="t114" clip-path="url(#a114)" font-size="7.63" fill="#6a80b0" stroke="#6a80b0" stroke-width="0.55" textLength="26.37" lengthAdjust="spacing">depends</text><g clip-path="url(#b114)"><text transform="translate(0 -3.62) scale(1 2.0) translate(0 3.62)" vector-effect="non-scaling-stroke" font-size="7.63" fill="#6a80b0" stroke="#6a80b0" stroke-width="0.55" textLength="26.37" lengthAdjust="spacing">depends</text></g></g>
<g transform="translate(213.5 372.5) rotate(-90) scale(0.9141 1)"><text id="t115" clip-path="url(#a115)" font-size="15.25" fill="#1c3a5e" stroke="#1c3a5e" stroke-width="0.49" textLength="50.32" lengthAdjust="spacing">produces</text><g clip-path="url(#b115)"><text transform="translate(0 -7.24) scale(1 2.0) translate(0 7.24)" vector-effect="non-scaling-stroke" font-size="15.25" fill="#1c3a5e" stroke="#1c3a5e" stroke-width="0.49" textLength="50.32" lengthAdjust="spacing">produces</text></g></g>
<g transform="translate(380.5 414.3) rotate(-90) scale(1.0470 1)"><text id="t116" clip-path="url(#a116)" font-size="15.25" fill="#1c3a5e" stroke="#1c3a5e" stroke-width="0.49" textLength="47.00" lengthAdjust="spacing">versıon</text><g clip-path="url(#b116)"><text transform="translate(0 -7.24) scale(1 2.0) translate(0 7.24)" vector-effect="non-scaling-stroke" font-size="15.25" fill="#1c3a5e" stroke="#1c3a5e" stroke-width="0.49" textLength="47.00" lengthAdjust="spacing">versıon</text></g><circle cx="28.93" cy="-14.00" r="1.07" fill="#1c3a5e"/></g>
<g transform="translate(396.5 428.0) rotate(-90) scale(1.0011 1)"><text id="t117" clip-path="url(#a117)" font-size="18.08" fill="#1c3a5e" stroke="#1c3a5e" stroke-width="0.46" textLength="61.34" lengthAdjust="spacing">Anımals</text><g clip-path="url(#b117)"><text transform="translate(0 -8.59) scale(1 2.0) translate(0 8.59)" vector-effect="non-scaling-stroke" font-size="18.08" fill="#1c3a5e" stroke="#1c3a5e" stroke-width="0.46" textLength="61.34" lengthAdjust="spacing">Anımals</text></g><circle cx="24.63" cy="-16.60" r="1.27" fill="#1c3a5e"/></g>
<g transform="translate(429 388.0) rotate(-90) scale(1.1547 1)"><text id="t118" clip-path="url(#a118)" font-size="30.50" fill="#0f1c33" stroke="#0f1c33" stroke-width="0.32" textLength="76.25" lengthAdjust="spacing">allele</text><g clip-path="url(#b118)"><text transform="translate(0 -14.49) scale(1 2.0) translate(0 14.49)" vector-effect="non-scaling-stroke" font-size="30.50" fill="#0f1c33" stroke="#0f1c33" stroke-width="0.32" textLength="76.25" lengthAdjust="spacing">allele</text></g></g>
<g transform="translate(413 409.8) rotate(-90) scale(1.0245 1)"><text id="t119" clip-path="url(#a119)" font-size="7.63" fill="#235787" stroke="#235787" stroke-width="0.55" textLength="27.33" lengthAdjust="spacing">removed</text><g clip-path="url(#b119)"><text transform="translate(0 -3.62) scale(1 2.0) translate(0 3.62)" vector-effect="non-scaling-stroke" font-size="7.63" fill="#235787" stroke="#235787" stroke-width="0.55" textLength="27.33" lengthAdjust="spacing">removed</text></g></g>
<g transform="translate(455 378.5) rotate(-90) scale(1.0348 1)"><text id="t120" clip-path="url(#a120)" font-size="32.68" fill="#0f1c33" stroke="#0f1c33" stroke-width="0.30" textLength="97.63" lengthAdjust="spacing">genetıc</text><g clip-path="url(#b120)"><text transform="translate(0 -15.52) scale(1 2.0) translate(0 15.52)" vector-effect="non-scaling-stroke" font-size="32.68" fill="#0f1c33" stroke="#0f1c33" stroke-width="0.30" textLength="97.63" lengthAdjust="spacing">genetıc</text></g><circle cx="78.03" cy="-30.00" r="2.29" fill="#0f1c33"/></g>
<g transform="translate(477.5 399.0) rotate(-90) scale(1.0278 1)"><text id="t121" clip-path="url(#a121)" font-size="17.43" fill="#1d5580" stroke="#1d5580" stroke-width="0.47" textLength="43.79" lengthAdjust="spacing">Plants</text><g clip-path="url(#b121)"><text transform="translate(0 -8.28) scale(1 2.0) translate(0 8.28)" vector-effect="non-scaling-stroke" font-size="17.43" fill="#1d5580" stroke="#1d5580" stroke-width="0.47" textLength="43.79" lengthAdjust="spacing">Plants</text></g></g>
<g transform="translate(474.5 347.5) rotate(-90) scale(0.9324 1)"><text id="t122" clip-path="url(#a122)" font-size="23.97" fill="#3a5a40" stroke="#3a5a40" stroke-width="0.40" textLength="63.27" lengthAdjust="spacing">change</text><g clip-path="url(#b122)"><text transform="translate(0 -11.38) scale(1 2.0) translate(0 11.38)" vector-effect="non-scaling-stroke" font-size="23.97" fill="#3a5a40" stroke="#3a5a40" stroke-width="0.40" textLength="63.27" lengthAdjust="spacing">change</text></g></g>
<g transform="translate(500.4 390.0) rotate(-90) scale(1.0135 1)"><text id="t123" clip-path="url(#a123)" font-size="33.99" fill="#0f1c33" stroke="#0f1c33" stroke-width="0.29" textLength="99.47" lengthAdjust="spacing">parents</text><g clip-path="url(#b123)"><text transform="translate(0 -16.14) scale(1 2.0) translate(0 16.14)" vector-effect="non-scaling-stroke" font-size="33.99" fill="#0f1c33" stroke="#0f1c33" stroke-width="0.29" textLength="99.47" lengthAdjust="spacing">parents</text></g></g>
<g transform="translate(525 385.8) rotate(-90) scale(1.0569 1)"><text id="t124" clip-path="url(#a124)" font-size="10.89" fill="#1c3a5e" stroke="#1c3a5e" stroke-width="0.54" textLength="23.65" lengthAdjust="spacing">leads</text><g clip-path="url(#b124)"><text transform="translate(0 -5.17) scale(1 2.0) translate(0 5.17)" vector-effect="non-scaling-stroke" font-size="10.89" fill="#1c3a5e" stroke="#1c3a5e" stroke-width="0.54" textLength="23.65" lengthAdjust="spacing">leads</text></g></g>
<g transform="translate(412 329.49) rotate(-90) scale(1.0738 1)"><text id="t125" clip-path="url(#a125)" font-size="23.97" fill="#1c3a5e" stroke="#1c3a5e" stroke-width="0.40" textLength="82.91" lengthAdjust="spacing">controls</text><g clip-path="url(#b125)"><text transform="translate(0 -11.38) scale(1 2.0) translate(0 11.38)" vector-effect="non-scaling-stroke" font-size="23.97" fill="#1c3a5e" stroke="#1c3a5e" stroke-width="0.40" textLength="82.91" lengthAdjust="spacing">controls</text></g></g>
<g transform="translate(388.75 266.0) rotate(-90) scale(1.0327 1)"><text id="t126" clip-path="url(#a126)" font-size="7.63" fill="#3a7ab0" stroke="#3a7ab0" stroke-width="0.55" textLength="20.55" lengthAdjust="spacing">needle</text><g clip-path="url(#b126)"><text transform="translate(0 -3.62) scale(1 2.0) translate(0 3.62)" vector-effect="non-scaling-stroke" font-size="7.63" fill="#3a7ab0" stroke="#3a7ab0" stroke-width="0.55" textLength="20.55" lengthAdjust="spacing">needle</text></g></g>
<g transform="translate(400.2 168.5) rotate(-90) scale(1.0668 1)"><text id="t127" clip-path="url(#a127)" font-size="33.99" fill="#0f1c33" stroke="#0f1c33" stroke-width="0.29" textLength="54.39" lengthAdjust="spacing">two</text><g clip-path="url(#b127)"><text transform="translate(0 -16.14) scale(1 2.0) translate(0 16.14)" vector-effect="non-scaling-stroke" font-size="33.99" fill="#0f1c33" stroke="#0f1c33" stroke-width="0.29" textLength="54.39" lengthAdjust="spacing">two</text></g></g>
<g transform="translate(409.6 111.25) rotate(-90) scale(1.0281 1)"><text id="t128" clip-path="url(#a128)" font-size="10.89" fill="#235787" stroke="#235787" stroke-width="0.54" textLength="16.17" lengthAdjust="spacing">cell</text><g clip-path="url(#b128)"><text transform="translate(0 -5.17) scale(1 2.0) translate(0 5.17)" vector-effect="non-scaling-stroke" font-size="10.89" fill="#235787" stroke="#235787" stroke-width="0.54" textLength="16.17" lengthAdjust="spacing">cell</text></g></g>
<g transform="translate(410.6 169.6) rotate(-90) scale(0.9940 1)"><text id="t129" clip-path="url(#a129)" font-size="8.71" fill="#3a7ab0" stroke="#3a7ab0" stroke-width="0.55" textLength="22.13" lengthAdjust="spacing">abılıty</text><g clip-path="url(#b129)"><text transform="translate(0 -4.14) scale(1 2.0) translate(0 4.14)" vector-effect="non-scaling-stroke" font-size="8.71" fill="#3a7ab0" stroke="#3a7ab0" stroke-width="0.55" textLength="22.13" lengthAdjust="spacing">abılıty</text></g><circle cx="9.39" cy="-8.00" r="0.61" fill="#3a7ab0"/><circle cx="14.19" cy="-8.00" r="0.61" fill="#3a7ab0"/></g>
<g transform="translate(424 164.4) rotate(-90) scale(1.0634 1)"><text id="t130" clip-path="url(#a130)" font-size="19.17" fill="#2a5070" stroke="#2a5070" stroke-width="0.45" textLength="61.13" lengthAdjust="spacing">another</text><g clip-path="url(#b130)"><text transform="translate(0 -9.11) scale(1 2.0) translate(0 9.11)" vector-effect="non-scaling-stroke" font-size="19.17" fill="#2a5070" stroke="#2a5070" stroke-width="0.45" textLength="61.13" lengthAdjust="spacing">another</text></g></g>
<g transform="translate(434.6 166.5) rotate(-90) scale(0.9573 1)"><text id="t131" clip-path="url(#a131)" font-size="7.63" fill="#3a7ab0" stroke="#3a7ab0" stroke-width="0.55" textLength="33.65" lengthAdjust="spacing">generatıons</text><g clip-path="url(#b131)"><text transform="translate(0 -3.62) scale(1 2.0) translate(0 3.62)" vector-effect="non-scaling-stroke" font-size="7.63" fill="#3a7ab0" stroke="#3a7ab0" stroke-width="0.55" textLength="33.65" lengthAdjust="spacing">generatıons</text></g><circle cx="22.44" cy="-7.00" r="0.60" fill="#3a7ab0"/></g>
<g transform="translate(434.6 120.6) rotate(-90) scale(1.0531 1)"><text id="t132" clip-path="url(#a132)" font-size="7.63" fill="#3a7ab0" stroke="#3a7ab0" stroke-width="0.55" textLength="32.87" lengthAdjust="spacing">organısms</text><g clip-path="url(#b132)"><text transform="translate(0 -3.62) scale(1 2.0) translate(0 3.62)" vector-effect="non-scaling-stroke" font-size="7.63" fill="#3a7ab0" stroke="#3a7ab0" stroke-width="0.55" textLength="32.87" lengthAdjust="spacing">organısms</text></g><circle cx="19.33" cy="-7.00" r="0.60" fill="#3a7ab0"/></g>
<g transform="translate(451.5 150.6) rotate(-90) scale(1.0300 1)"><text id="t133" clip-path="url(#a133)" font-size="12.20" fill="#1c3a5e" stroke="#1c3a5e" stroke-width="0.53" textLength="67.00" lengthAdjust="spacing">heterozygous</text><g clip-path="url(#b133)"><text transform="translate(0 -5.80) scale(1 2.0) translate(0 5.80)" vector-effect="non-scaling-stroke" font-size="12.20" fill="#1c3a5e" stroke="#1c3a5e" stroke-width="0.53" textLength="67.00" lengthAdjust="spacing">heterozygous</text></g></g>
<g transform="translate(486.5 134.0) rotate(-90) scale(1.0604 1)"><text id="t134" clip-path="url(#a134)" font-size="7.63" fill="#3a7ab0" stroke="#3a7ab0" stroke-width="0.55" textLength="18.86" lengthAdjust="spacing">levels</text><g clip-path="url(#b134)"><text transform="translate(0 -3.62) scale(1 2.0) translate(0 3.62)" vector-effect="non-scaling-stroke" font-size="7.63" fill="#3a7ab0" stroke="#3a7ab0" stroke-width="0.55" textLength="18.86" lengthAdjust="spacing">levels</text></g></g>
<g transform="translate(508.6 138.0) rotate(-90) scale(1.0719 1)"><text id="t135" clip-path="url(#a135)" font-size="15.69" fill="#1c3a5e" stroke="#1c3a5e" stroke-width="0.49" textLength="7.46" lengthAdjust="spacing">a</text><g clip-path="url(#b135)"><text transform="translate(0 -7.45) scale(1 2.0) translate(0 7.45)" vector-effect="non-scaling-stroke" font-size="15.69" fill="#1c3a5e" stroke="#1c3a5e" stroke-width="0.49" textLength="7.46" lengthAdjust="spacing">a</text></g></g>
<g transform="translate(525 126.25) rotate(-90) scale(0.9730 1)"><text id="t136" clip-path="url(#a136)" font-size="14.16" fill="#235787" stroke="#235787" stroke-width="0.50" textLength="35.97" lengthAdjust="spacing">follow</text><g clip-path="url(#b136)"><text transform="translate(0 -6.73) scale(1 2.0) translate(0 6.73)" vector-effect="non-scaling-stroke" font-size="14.16" fill="#235787" stroke="#235787" stroke-width="0.50" textLength="35.97" lengthAdjust="spacing">follow</text></g></g>
<g transform="translate(538.75 128.75) rotate(-90) scale(1.0441 1)"><text id="t137" clip-path="url(#a137)" font-size="11.98" fill="#235787" stroke="#235787" stroke-width="0.53" textLength="27.78" lengthAdjust="spacing">water</text><g clip-path="url(#b137)"><text transform="translate(0 -5.69) scale(1 2.0) translate(0 5.69)" vector-effect="non-scaling-stroke" font-size="11.98" fill="#235787" stroke="#235787" stroke-width="0.53" textLength="27.78" lengthAdjust="spacing">water</text></g></g>
<g transform="translate(548 160.0) rotate(-90) scale(0.9747 1)"><text id="t138" clip-path="url(#a138)" font-size="13.07" fill="#235787" stroke="#235787" stroke-width="0.52" textLength="41.04" lengthAdjust="spacing">produce</text><g clip-path="url(#b138)"><text transform="translate(0 -6.21) scale(1 2.0) translate(0 6.21)" vector-effect="non-scaling-stroke" font-size="13.07" fill="#235787" stroke="#235787" stroke-width="0.52" textLength="41.04" lengthAdjust="spacing">produce</text></g></g>
<g transform="translate(560 170.0) rotate(-90) scale(1.0188 1)"><text id="t139" clip-path="url(#a139)" font-size="7.63" fill="#3a7ab0" stroke="#3a7ab0" stroke-width="0.55" textLength="17.69" lengthAdjust="spacing">lower</text><g clip-path="url(#b139)"><text transform="translate(0 -3.62) scale(1 2.0) translate(0 3.62)" vector-effect="non-scaling-stroke" font-size="7.63" fill="#3a7ab0" stroke="#3a7ab0" stroke-width="0.55" textLength="17.69" lengthAdjust="spacing">lower</text></g></g>
<g transform="translate(577.5 254.0) rotate(-90) scale(1.0688 1)"><text id="t140" clip-path="url(#a140)" font-size="34.86" fill="#0f1c33" stroke="#0f1c33" stroke-width="0.28" textLength="175.90" lengthAdjust="spacing">ınformatıon</text><g clip-path="url(#b140)"><text transform="translate(0 -16.56) scale(1 2.0) translate(0 16.56)" vector-effect="non-scaling-stroke" font-size="34.86" fill="#0f1c33" stroke="#0f1c33" stroke-width="0.28" textLength="175.90" lengthAdjust="spacing">ınformatıon</text></g><circle cx="4.85" cy="-29.44" r="2.44" fill="#0f1c33"/><circle cx="133.94" cy="-29.44" r="2.44" fill="#0f1c33"/></g>
<g transform="translate(607 254.3) rotate(-90) scale(1.0592 1)"><text id="t141" clip-path="url(#a141)" font-size="29.41" fill="#0f1c33" stroke="#0f1c33" stroke-width="0.34" textLength="106.68" lengthAdjust="spacing">dıfferent</text><g clip-path="url(#b141)"><text transform="translate(0 -13.97) scale(1 2.0) translate(0 13.97)" vector-effect="non-scaling-stroke" font-size="29.41" fill="#0f1c33" stroke="#0f1c33" stroke-width="0.34" textLength="106.68" lengthAdjust="spacing">dıfferent</text></g><circle cx="19.53" cy="-21.60" r="2.06" fill="#0f1c33"/></g>
<g transform="translate(590 193.3) rotate(-90) scale(1.0441 1)"><text id="t142" clip-path="url(#a142)" font-size="7.63" fill="#3a7ab0" stroke="#3a7ab0" stroke-width="0.55" textLength="28.73" lengthAdjust="spacing">chemıcal</text><g clip-path="url(#b142)"><text transform="translate(0 -3.62) scale(1 2.0) translate(0 3.62)" vector-effect="non-scaling-stroke" font-size="7.63" fill="#3a7ab0" stroke="#3a7ab0" stroke-width="0.55" textLength="28.73" lengthAdjust="spacing">chemıcal</text></g><circle cx="18.27" cy="-7.00" r="0.60" fill="#3a7ab0"/></g>
<g transform="translate(619.5 230.0) rotate(-90) scale(1.0086 1)"><text id="t143" clip-path="url(#a143)" font-size="16.34" fill="#1c3a5e" stroke="#1c3a5e" stroke-width="0.48" textLength="47.59" lengthAdjust="spacing">present</text><g clip-path="url(#b143)"><text transform="translate(0 -7.76) scale(1 2.0) translate(0 7.76)" vector-effect="non-scaling-stroke" font-size="16.34" fill="#1c3a5e" stroke="#1c3a5e" stroke-width="0.48" textLength="47.59" lengthAdjust="spacing">present</text></g></g>
<g transform="translate(649 255.03) rotate(-90) scale(1.0783 1)"><text id="t144" clip-path="url(#a144)" font-size="43.57" fill="#2b2a1c" stroke="#2b2a1c" stroke-width="0.18" textLength="67.84" lengthAdjust="spacing">one</text><g clip-path="url(#b144)"><text transform="translate(0 -20.70) scale(1 2.0) translate(0 20.70)" vector-effect="non-scaling-stroke" font-size="43.57" fill="#2b2a1c" stroke="#2b2a1c" stroke-width="0.18" textLength="67.84" lengthAdjust="spacing">one</text></g></g>
<g transform="translate(627 253.3) rotate(-90) scale(1.0603 1)"><text id="t145" clip-path="url(#a145)" font-size="7.63" fill="#3a7ab0" stroke="#3a7ab0" stroke-width="0.55" textLength="20.20" lengthAdjust="spacing">nature</text><g clip-path="url(#b145)"><text transform="translate(0 -3.62) scale(1 2.0) translate(0 3.62)" vector-effect="non-scaling-stroke" font-size="7.63" fill="#3a7ab0" stroke="#3a7ab0" stroke-width="0.55" textLength="20.20" lengthAdjust="spacing">nature</text></g></g>
<g transform="translate(668.75 238.5) rotate(-90) scale(1.0452 1)"><text id="t146" clip-path="url(#a146)" font-size="17.43" fill="#1c3a5e" stroke="#1c3a5e" stroke-width="0.47" textLength="35.41" lengthAdjust="spacing">form</text><g clip-path="url(#b146)"><text transform="translate(0 -8.28) scale(1 2.0) translate(0 8.28)" vector-effect="non-scaling-stroke" font-size="17.43" fill="#1c3a5e" stroke="#1c3a5e" stroke-width="0.47" textLength="35.41" lengthAdjust="spacing">form</text></g></g>
<g transform="translate(683.3 229.0) rotate(-90) scale(0.7791 1)"><text id="t147" clip-path="url(#a147)" font-size="19.61" fill="#1c3a5e" stroke="#1c3a5e" stroke-width="0.44" textLength="28.01" lengthAdjust="spacing">lıpıd</text><g clip-path="url(#b147)"><text transform="translate(0 -9.31) scale(1 2.0) translate(0 9.31)" vector-effect="non-scaling-stroke" font-size="19.61" fill="#1c3a5e" stroke="#1c3a5e" stroke-width="0.44" textLength="28.01" lengthAdjust="spacing">lıpıd</text></g><circle cx="6.20" cy="-18.00" r="1.37" fill="#1c3a5e"/><circle cx="17.47" cy="-18.00" r="1.37" fill="#1c3a5e"/></g>
<g transform="translate(701 270.8) rotate(-90) scale(1.0518 1)"><text id="t148" clip-path="url(#a148)" font-size="12.20" fill="#235787" stroke="#235787" stroke-width="0.53" textLength="64.85" lengthAdjust="spacing">reproductıve</text><g clip-path="url(#b148)"><text transform="translate(0 -5.80) scale(1 2.0) translate(0 5.80)" vector-effect="non-scaling-stroke" font-size="12.20" fill="#235787" stroke="#235787" stroke-width="0.53" textLength="64.85" lengthAdjust="spacing">reproductıve</text></g><circle cx="51.06" cy="-11.20" r="0.85" fill="#235787"/></g>
<g transform="translate(713 283.0) rotate(-90) scale(1.1079 1)"><text id="t149" clip-path="url(#a149)" font-size="7.41" fill="#3a7ab0" stroke="#3a7ab0" stroke-width="0.55" textLength="67.70" lengthAdjust="spacing">ındıvıdual mutatıons</text><g clip-path="url(#b149)"><text transform="translate(0 -3.52) scale(1 2.0) translate(0 3.52)" vector-effect="non-scaling-stroke" font-size="7.41" fill="#3a7ab0" stroke="#3a7ab0" stroke-width="0.55" textLength="67.70" lengthAdjust="spacing">ındıvıdual mutatıons</text></g><circle cx="1.03" cy="-6.80" r="0.60" fill="#3a7ab0"/><circle cx="11.53" cy="-6.80" r="0.60" fill="#3a7ab0"/><circle cx="17.99" cy="-6.80" r="0.60" fill="#3a7ab0"/><circle cx="55.34" cy="-6.80" r="0.60" fill="#3a7ab0"/></g>
<g transform="translate(721.5 240.6) rotate(-90) scale(0.9033 1)"><text id="t150" clip-path="url(#a150)" font-size="11.33" fill="#235787" stroke="#235787" stroke-width="0.54" textLength="36.77" lengthAdjust="spacing">dıffusıon</text><g clip-path="url(#b150)"><text transform="translate(0 -5.38) scale(1 2.0) translate(0 5.38)" vector-effect="non-scaling-stroke" font-size="11.33" fill="#235787" stroke="#235787" stroke-width="0.54" textLength="36.77" lengthAdjust="spacing">dıffusıon</text></g><circle cx="6.74" cy="-10.40" r="0.79" fill="#235787"/><circle cx="24.86" cy="-10.40" r="0.79" fill="#235787"/></g>
<g transform="translate(732 251.0) rotate(-90) scale(1.0645 1)"><text id="t151" clip-path="url(#a151)" font-size="7.63" fill="#3a7ab0" stroke="#3a7ab0" stroke-width="0.55" textLength="22.54" lengthAdjust="spacing">sımılar</text><g clip-path="url(#b151)"><text transform="translate(0 -3.62) scale(1 2.0) translate(0 3.62)" vector-effect="non-scaling-stroke" font-size="7.63" fill="#3a7ab0" stroke="#3a7ab0" stroke-width="0.55" textLength="22.54" lengthAdjust="spacing">sımılar</text></g><circle cx="4.25" cy="-7.00" r="0.60" fill="#3a7ab0"/><circle cx="12.75" cy="-7.00" r="0.60" fill="#3a7ab0"/></g>
<g transform="translate(544.6 228.75) rotate(-90) scale(1.0576 1)"><text id="t152" clip-path="url(#a152)" font-size="10.89" fill="#235787" stroke="#235787" stroke-width="0.54" textLength="21.75" lengthAdjust="spacing">need</text><g clip-path="url(#b152)"><text transform="translate(0 -5.17) scale(1 2.0) translate(0 5.17)" vector-effect="non-scaling-stroke" font-size="10.89" fill="#235787" stroke="#235787" stroke-width="0.54" textLength="21.75" lengthAdjust="spacing">need</text></g></g>
<text x="491" y="130" font-size="25" font-weight="bold" fill="#1c3a5e" textLength="19.5" lengthAdjust="spacingAndGlyphs">3</text>
</svg>
<svg style="position:absolute;left:0;top:0" width="1344" height="480">
<text x="820.5" y="452.8" text-anchor="end" font-family="Liberation Sans" font-size="10.3" fill="#111" stroke="#111" stroke-width="0.15">0</text>
<line x1="832" x2="1294" y1="375.2" y2="375.2" stroke="#c4c4c4" stroke-width="1.2"/>
<text x="820.5" y="378.8" text-anchor="end" font-family="Liberation Sans" font-size="10.3" fill="#111" stroke="#111" stroke-width="0.15">12.5</text>
<line x1="832" x2="1294" y1="300.1" y2="300.1" stroke="#c4c4c4" stroke-width="1.2"/>
<text x="820.5" y="303.7" text-anchor="end" font-family="Liberation Sans" font-size="10.3" fill="#111" stroke="#111" stroke-width="0.15">25.0</text>
<line x1="832" x2="1294" y1="225.6" y2="225.6" stroke="#c4c4c4" stroke-width="1.2"/>
<text x="820.5" y="229.2" text-anchor="end" font-family="Liberation Sans" font-size="10.3" fill="#111" stroke="#111" stroke-width="0.15">37.5</text>
<line x1="832" x2="1294" y1="152.4" y2="152.4" stroke="#c4c4c4" stroke-width="1.2"/>
<text x="820.5" y="156.0" text-anchor="end" font-family="Liberation Sans" font-size="10.3" fill="#111" stroke="#111" stroke-width="0.15">50.0</text>
<rect x="850.9" y="340.8" width="38.8" height="108.4" fill="#686868"/>
<line x1="870.3" x2="870.3" y1="283.3" y2="340.8" stroke="#3a3a3a" stroke-width="1.1"/>
<line x1="866.9" x2="873.7" y1="283.3" y2="283.3" stroke="#3a3a3a" stroke-width="1.3"/>
<text x="870.3" y="463.8" text-anchor="middle" font-family="Liberation Sans" font-size="10.3" fill="#111" stroke="#111" stroke-width="0.15">A</text>
<rect x="927.4" y="360.7" width="38.8" height="88.5" fill="#686868"/>
<line x1="946.8" x2="946.8" y1="302.5" y2="360.7" stroke="#3a3a3a" stroke-width="1.1"/>
<line x1="943.4" x2="950.2" y1="302.5" y2="302.5" stroke="#3a3a3a" stroke-width="1.3"/>
<text x="946.8" y="463.8" text-anchor="middle" font-family="Liberation Sans" font-size="10.3" fill="#111" stroke="#111" stroke-width="0.15">B</text>
<rect x="1004.3" y="269.8" width="38.8" height="179.4" fill="#686868"/>
<line x1="1023.7" x2="1023.7" y1="211.5" y2="269.8" stroke="#3a3a3a" stroke-width="1.1"/>
<line x1="1020.3" x2="1027.1" y1="211.5" y2="211.5" stroke="#3a3a3a" stroke-width="1.3"/>
<text x="1023.7" y="463.8" text-anchor="middle" font-family="Liberation Sans" font-size="10.3" fill="#111" stroke="#111" stroke-width="0.15">C</text>
<rect x="1081.5" y="346.7" width="38.8" height="102.5" fill="#686868"/>
<line x1="1100.9" x2="1100.9" y1="289.2" y2="346.7" stroke="#3a3a3a" stroke-width="1.1"/>
<line x1="1097.5" x2="1104.3" y1="289.2" y2="289.2" stroke="#3a3a3a" stroke-width="1.3"/>
<text x="1100.9" y="463.8" text-anchor="middle" font-family="Liberation Sans" font-size="10.3" fill="#111" stroke="#111" stroke-width="0.15">D</text>
<rect x="1158.3" y="369.6" width="38.8" height="79.6" fill="#686868"/>
<line x1="1177.7" x2="1177.7" y1="311.3" y2="369.6" stroke="#3a3a3a" stroke-width="1.1"/>
<line x1="1174.3" x2="1181.1" y1="311.3" y2="311.3" stroke="#3a3a3a" stroke-width="1.3"/>
<text x="1177.7" y="463.8" text-anchor="middle" font-family="Liberation Sans" font-size="10.3" fill="#111" stroke="#111" stroke-width="0.15">E*</text>
<rect x="1235.0" y="403.0" width="38.8" height="46.2" fill="#686868"/>
<line x1="1254.4" x2="1254.4" y1="345.4" y2="403.0" stroke="#3a3a3a" stroke-width="1.1"/>
<line x1="1251.0" x2="1257.8" y1="345.4" y2="345.4" stroke="#3a3a3a" stroke-width="1.3"/>
<text x="1254.4" y="463.8" text-anchor="middle" font-family="Liberation Sans" font-size="10.3" fill="#111" stroke="#111" stroke-width="0.15">unanswered</text>
<line x1="832" x2="1294" y1="449.2" y2="449.2" stroke="#555" stroke-width="1.3"/>
<text x="774.5" y="306" font-family="Liberation Sans" font-size="15" fill="#222">%</text>
</svg>
<div style="position:absolute;white-space:pre;font-family:'Liberation Sans',sans-serif;font-size:12.55px;line-height:15px;color:#111;left:795.3px;top:8.6px;font-weight:bold">Q25: Imagine an ADP molecule inside a bacterial cell. Which best describes how it would</div>
<div style="position:absolute;white-space:pre;font-family:'Liberation Sans',sans-serif;font-size:12.55px;line-height:15px;color:#111;left:795.3px;top:23px;font-weight:bold">manage to "find" an ATP synthase so that it could become an ATP molecule?</div>
<div style="position:absolute;white-space:pre;font-family:'Liberation Sans',sans-serif;font-size:12.55px;line-height:15px;color:#111;left:795.3px;top:37.7px">A.</div>
<div style="position:absolute;white-space:pre;font-family:'Liberation Sans',sans-serif;font-size:12.55px;line-height:15px;color:#111;left:818.3px;top:37.7px">It  would follow the hydrogen ion flow.</div>
<div style="position:absolute;white-space:pre;font-family:'Liberation Sans',sans-serif;font-size:12.55px;line-height:15px;color:#111;left:795.3px;top:53.3px">B.</div>
<div style="position:absolute;white-space:pre;font-family:'Liberation Sans',sans-serif;font-size:12.55px;line-height:15px;color:#111;left:814px;top:53.3px">The ATP synthase would grab it.</div>
<div style="position:absolute;white-space:pre;font-family:'Liberation Sans',sans-serif;font-size:12.55px;line-height:15px;color:#111;left:795.3px;top:67.9px">C.</div>
<div style="position:absolute;white-space:pre;font-family:'Liberation Sans',sans-serif;font-size:12.55px;line-height:15px;color:#111;left:814px;top:67.9px">Its electronegativity would attract it to the ATP synthase.</div>
<div style="position:absolute;white-space:pre;font-family:'Liberation Sans',sans-serif;font-size:12.55px;line-height:15px;color:#111;left:795.3px;top:83.4px">D.</div>
<div style="position:absolute;white-space:pre;font-family:'Liberation Sans',sans-serif;font-size:12.55px;line-height:15px;color:#111;left:814px;top:83.4px">It would be actively pumped to the right area.</div>
<div style="position:absolute;white-space:pre;font-family:'Liberation Sans',sans-serif;font-size:12.55px;line-height:15px;color:#111;left:795.3px;top:97.9px">E.</div>
<div style="position:absolute;white-space:pre;font-family:'Liberation Sans',sans-serif;font-size:12.55px;line-height:15px;color:#111;left:830.8px;top:97.9px">Random movements would bring it to the ATP synthase.</div>
<svg style="position:absolute;left:810px;top:99px" width="14" height="13"><path d="M1.3 7.1 Q2.4 5.6 3.8 5.9 Q4.5 6.6 5.1 8.0 Q8.2 3.6 11.9 1.3 Q12.5 1.3 12.6 1.8 Q9.2 5.2 6.7 10.3 Q6.0 11.7 4.9 11.9 Q4.2 11.8 3.9 11.0 Q3.0 8.6 1.3 7.1 Z" fill="#111"/></svg>
</div></body></html>
